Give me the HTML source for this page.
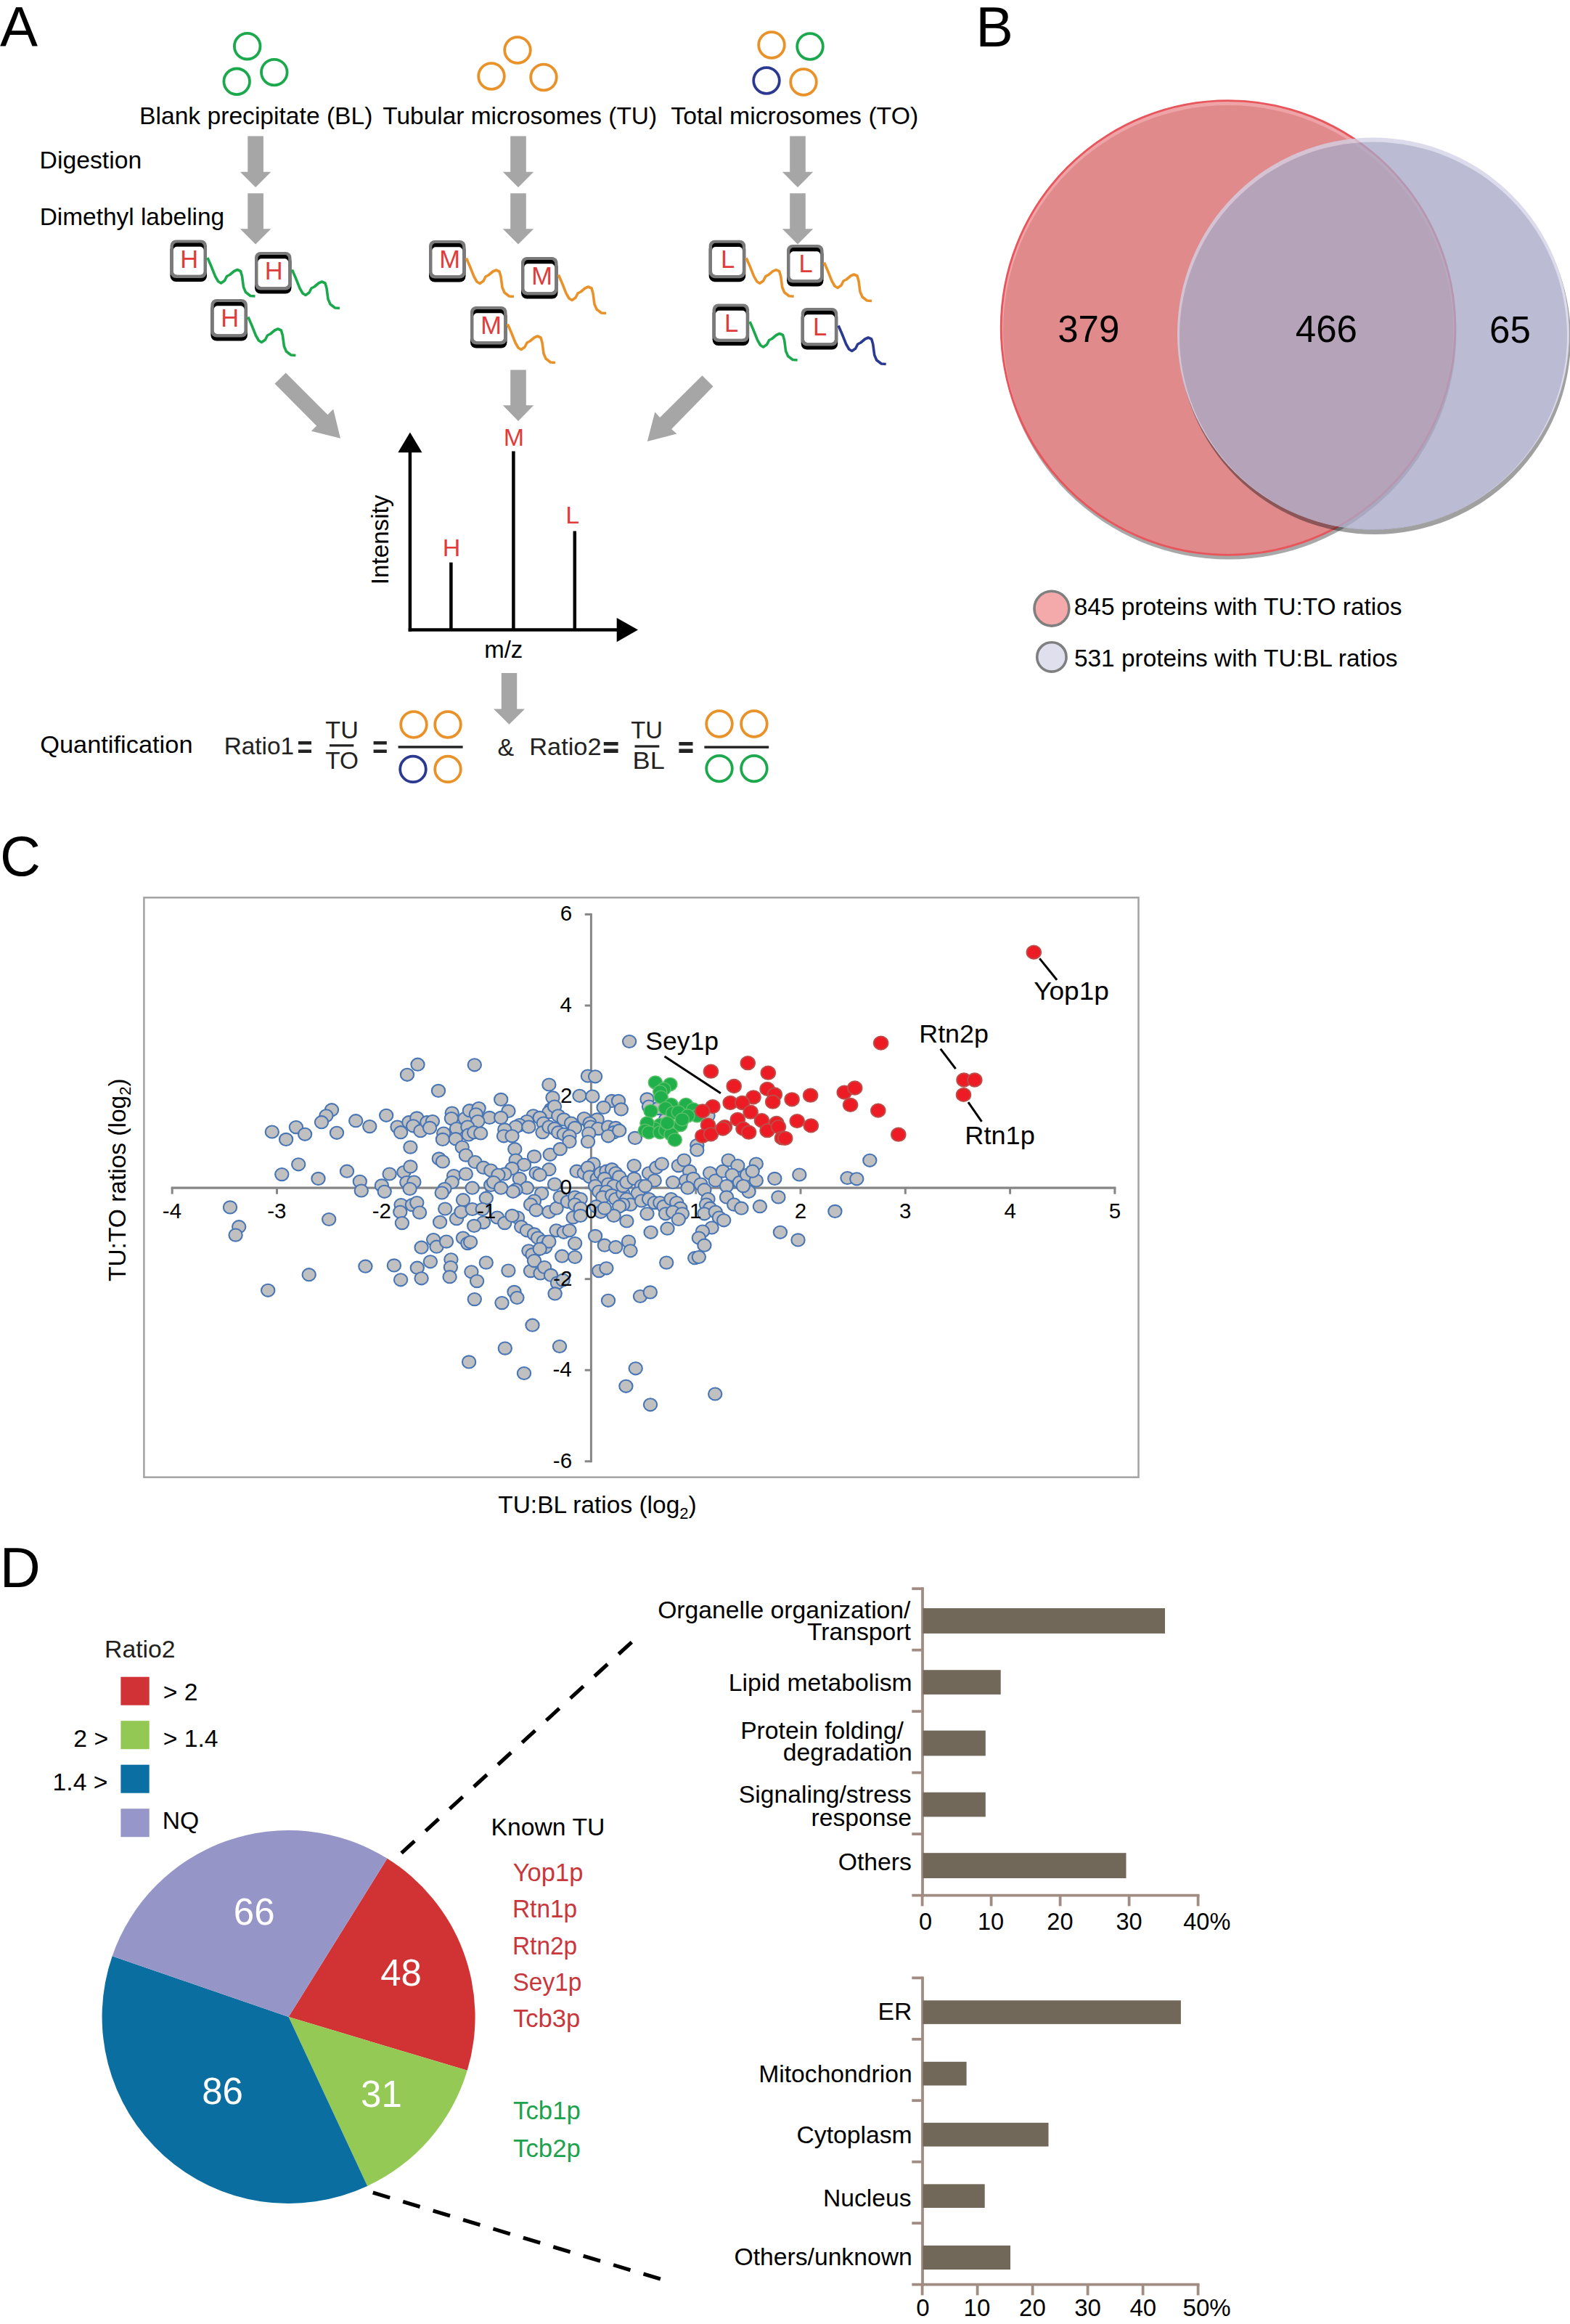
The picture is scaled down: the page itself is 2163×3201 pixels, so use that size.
<!DOCTYPE html>
<html><head><meta charset="utf-8"><style>
html,body{margin:0;padding:0;background:#fff;overflow:hidden;}
body{width:2163px;height:3201px;}
svg{display:block;font-family:"Liberation Sans",sans-serif;}
</style></head><body>
<svg width="2163" height="3201" viewBox="0 0 2163 3201">
<rect width="2163" height="3201" fill="#fff"/>
<text x="0.00" y="63.70" font-size="78" fill="#000">A</text>
<circle cx="340.7" cy="63.7" r="17.8" fill="none" stroke="#1ca84c" stroke-width="3.8"/>
<circle cx="377.8" cy="99.6" r="17.8" fill="none" stroke="#1ca84c" stroke-width="3.8"/>
<circle cx="326.2" cy="112.3" r="17.8" fill="none" stroke="#1ca84c" stroke-width="3.8"/>
<circle cx="713" cy="69" r="17.8" fill="none" stroke="#e9922a" stroke-width="3.8"/>
<circle cx="677" cy="105" r="17.8" fill="none" stroke="#e9922a" stroke-width="3.8"/>
<circle cx="749" cy="106.5" r="17.8" fill="none" stroke="#e9922a" stroke-width="3.8"/>
<circle cx="1063" cy="62" r="17.8" fill="none" stroke="#e9922a" stroke-width="3.8"/>
<circle cx="1116" cy="64" r="17.8" fill="none" stroke="#1ca84c" stroke-width="3.8"/>
<circle cx="1056" cy="111" r="17.8" fill="none" stroke="#2b3990" stroke-width="3.8"/>
<circle cx="1107" cy="113" r="17.8" fill="none" stroke="#e9922a" stroke-width="3.8"/>
<text x="192.11" y="171.10" font-size="34" fill="#000" textLength="321.29" lengthAdjust="spacingAndGlyphs">Blank precipitate (BL)</text>
<text x="527.33" y="171.10" font-size="34" fill="#000" textLength="377.78" lengthAdjust="spacingAndGlyphs">Tubular microsomes (TU)</text>
<text x="924.32" y="171.10" font-size="34" fill="#000" textLength="340.85" lengthAdjust="spacingAndGlyphs">Total microsomes (TO)</text>
<text x="54.60" y="232.10" font-size="34" fill="#000" textLength="140.56" lengthAdjust="spacingAndGlyphs">Digestion</text>
<text x="54.63" y="309.70" font-size="34" fill="#000" textLength="254.55" lengthAdjust="spacingAndGlyphs">Dimethyl labeling</text>
<polygon points="341.3,187.5 362.90000000000003,187.5 362.90000000000003,236.8 373.3,236.8 352.1,258.1 330.90000000000003,236.8 341.3,236.8" fill="#a6a6a6"/>
<polygon points="341.3,266.3 362.90000000000003,266.3 362.90000000000003,315.2 373.3,315.2 352.1,336.5 330.90000000000003,315.2 341.3,315.2" fill="#a6a6a6"/>
<polygon points="703.2,187.5 724.8,187.5 724.8,236.8 735.2,236.8 714,258.1 692.8,236.8 703.2,236.8" fill="#a6a6a6"/>
<polygon points="703.2,266.3 724.8,266.3 724.8,315.2 735.2,315.2 714,336.5 692.8,315.2 703.2,315.2" fill="#a6a6a6"/>
<polygon points="1088.2,187.5 1109.8,187.5 1109.8,236.8 1120.2,236.8 1099,258.1 1077.8,236.8 1088.2,236.8" fill="#a6a6a6"/>
<polygon points="1088.2,266.3 1109.8,266.3 1109.8,315.2 1120.2,315.2 1099,336.5 1077.8,315.2 1088.2,315.2" fill="#a6a6a6"/>
<rect x="234.5" y="335.5" width="50.5" height="52.5" rx="8" fill="#000"/>
<rect x="234.5" y="330.5" width="50.5" height="52.5" rx="8" fill="#7a7a7a"/>
<rect x="238.8" y="334.6" width="41.9" height="44.1" rx="5" fill="#000"/>
<rect x="238.8" y="339.7" width="41.9" height="39.0" rx="5" fill="#fff"/>
<text x="248.33" y="368.90" font-size="34.5" fill="#e03c3c">H</text>
<path d="M285.9,355.0 L290.5,365.5 L296.5,380.5 L300.5,387.5 L304.5,390.0 L309.5,386.5 L312.5,380.5 L316.5,378.5 L322.5,373.5 L327.0,371.5 L331.5,373.5 L333.5,380.5 L335.5,395.5 L338.5,402.5 L345.0,407.5 L351.5,408.0" fill="none" stroke="#1ca84c" stroke-width="3.6" stroke-linejoin="round" stroke-linecap="butt"/>
<rect x="351" y="352" width="50.5" height="52.5" rx="8" fill="#000"/>
<rect x="351" y="347" width="50.5" height="52.5" rx="8" fill="#7a7a7a"/>
<rect x="355.3" y="351.1" width="41.9" height="44.1" rx="5" fill="#000"/>
<rect x="355.3" y="356.2" width="41.9" height="39.0" rx="5" fill="#fff"/>
<text x="364.83" y="385.40" font-size="34.5" fill="#e03c3c">H</text>
<path d="M402.4,371.5 L407.0,382.0 L413.0,397.0 L417.0,404.0 L421.0,406.5 L426.0,403.0 L429.0,397.0 L433.0,395.0 L439.0,390.0 L443.5,388.0 L448.0,390.0 L450.0,397.0 L452.0,412.0 L455.0,419.0 L461.5,424.0 L468.0,424.5" fill="none" stroke="#1ca84c" stroke-width="3.6" stroke-linejoin="round" stroke-linecap="butt"/>
<rect x="290.4" y="417" width="50.5" height="52.5" rx="8" fill="#000"/>
<rect x="290.4" y="412" width="50.5" height="52.5" rx="8" fill="#7a7a7a"/>
<rect x="294.7" y="416.1" width="41.9" height="44.1" rx="5" fill="#000"/>
<rect x="294.7" y="421.2" width="41.9" height="39.0" rx="5" fill="#fff"/>
<text x="304.23" y="450.40" font-size="34.5" fill="#e03c3c">H</text>
<path d="M341.8,436.5 L346.4,447.0 L352.4,462.0 L356.4,469.0 L360.4,471.5 L365.4,468.0 L368.4,462.0 L372.4,460.0 L378.4,455.0 L382.9,453.0 L387.4,455.0 L389.4,462.0 L391.4,477.0 L394.4,484.0 L400.9,489.0 L407.4,489.5" fill="none" stroke="#1ca84c" stroke-width="3.6" stroke-linejoin="round" stroke-linecap="butt"/>
<rect x="591" y="336" width="50.5" height="52.5" rx="8" fill="#000"/>
<rect x="591" y="331" width="50.5" height="52.5" rx="8" fill="#7a7a7a"/>
<rect x="595.3" y="335.1" width="41.9" height="44.1" rx="5" fill="#000"/>
<rect x="595.3" y="340.2" width="41.9" height="39.0" rx="5" fill="#fff"/>
<text x="605.23" y="369.40" font-size="34.5" fill="#e03c3c">M</text>
<path d="M642.4,355.5 L647.0,366.0 L653.0,381.0 L657.0,388.0 L661.0,390.5 L666.0,387.0 L669.0,381.0 L673.0,379.0 L679.0,374.0 L683.5,372.0 L688.0,374.0 L690.0,381.0 L692.0,396.0 L695.0,403.0 L701.5,408.0 L708.0,408.5" fill="none" stroke="#e9922a" stroke-width="3.6" stroke-linejoin="round" stroke-linecap="butt"/>
<rect x="718" y="359" width="50.5" height="52.5" rx="8" fill="#000"/>
<rect x="718" y="354" width="50.5" height="52.5" rx="8" fill="#7a7a7a"/>
<rect x="722.3" y="358.1" width="41.9" height="44.1" rx="5" fill="#000"/>
<rect x="722.3" y="363.2" width="41.9" height="39.0" rx="5" fill="#fff"/>
<text x="732.23" y="392.40" font-size="34.5" fill="#e03c3c">M</text>
<path d="M769.4,378.5 L774.0,389.0 L780.0,404.0 L784.0,411.0 L788.0,413.5 L793.0,410.0 L796.0,404.0 L800.0,402.0 L806.0,397.0 L810.5,395.0 L815.0,397.0 L817.0,404.0 L819.0,419.0 L822.0,426.0 L828.5,431.0 L835.0,431.5" fill="none" stroke="#e9922a" stroke-width="3.6" stroke-linejoin="round" stroke-linecap="butt"/>
<rect x="648" y="427" width="50.5" height="52.5" rx="8" fill="#000"/>
<rect x="648" y="422" width="50.5" height="52.5" rx="8" fill="#7a7a7a"/>
<rect x="652.3" y="426.1" width="41.9" height="44.1" rx="5" fill="#000"/>
<rect x="652.3" y="431.2" width="41.9" height="39.0" rx="5" fill="#fff"/>
<text x="662.23" y="460.40" font-size="34.5" fill="#e03c3c">M</text>
<path d="M699.4,446.5 L704.0,457.0 L710.0,472.0 L714.0,479.0 L718.0,481.5 L723.0,478.0 L726.0,472.0 L730.0,470.0 L736.0,465.0 L740.5,463.0 L745.0,465.0 L747.0,472.0 L749.0,487.0 L752.0,494.0 L758.5,499.0 L765.0,499.5" fill="none" stroke="#e9922a" stroke-width="3.6" stroke-linejoin="round" stroke-linecap="butt"/>
<rect x="976.7" y="335.7" width="50.5" height="52.5" rx="8" fill="#000"/>
<rect x="976.7" y="330.7" width="50.5" height="52.5" rx="8" fill="#7a7a7a"/>
<rect x="981.0" y="334.8" width="41.9" height="44.1" rx="5" fill="#000"/>
<rect x="981.0" y="339.9" width="41.9" height="39.0" rx="5" fill="#fff"/>
<text x="993.11" y="369.10" font-size="34.5" fill="#e03c3c">L</text>
<path d="M1028.1,355.2 L1032.7,365.7 L1038.7,380.7 L1042.7,387.7 L1046.7,390.2 L1051.7,386.7 L1054.7,380.7 L1058.7,378.7 L1064.7,373.7 L1069.2,371.7 L1073.7,373.7 L1075.7,380.7 L1077.7,395.7 L1080.7,402.7 L1087.2,407.7 L1093.7,408.2" fill="none" stroke="#e9922a" stroke-width="3.6" stroke-linejoin="round" stroke-linecap="butt"/>
<rect x="1084" y="342" width="50.5" height="52.5" rx="8" fill="#000"/>
<rect x="1084" y="337" width="50.5" height="52.5" rx="8" fill="#7a7a7a"/>
<rect x="1088.3" y="341.1" width="41.9" height="44.1" rx="5" fill="#000"/>
<rect x="1088.3" y="346.2" width="41.9" height="39.0" rx="5" fill="#fff"/>
<text x="1100.41" y="375.40" font-size="34.5" fill="#e03c3c">L</text>
<path d="M1135.4,361.5 L1140.0,372.0 L1146.0,387.0 L1150.0,394.0 L1154.0,396.5 L1159.0,393.0 L1162.0,387.0 L1166.0,385.0 L1172.0,380.0 L1176.5,378.0 L1181.0,380.0 L1183.0,387.0 L1185.0,402.0 L1188.0,409.0 L1194.5,414.0 L1201.0,414.5" fill="none" stroke="#e9922a" stroke-width="3.6" stroke-linejoin="round" stroke-linecap="butt"/>
<rect x="981.6" y="423.5" width="50.5" height="52.5" rx="8" fill="#000"/>
<rect x="981.6" y="418.5" width="50.5" height="52.5" rx="8" fill="#7a7a7a"/>
<rect x="985.9" y="422.6" width="41.9" height="44.1" rx="5" fill="#000"/>
<rect x="985.9" y="427.7" width="41.9" height="39.0" rx="5" fill="#fff"/>
<text x="998.01" y="456.90" font-size="34.5" fill="#e03c3c">L</text>
<path d="M1033.0,443.0 L1037.6,453.5 L1043.6,468.5 L1047.6,475.5 L1051.6,478.0 L1056.6,474.5 L1059.6,468.5 L1063.6,466.5 L1069.6,461.5 L1074.1,459.5 L1078.6,461.5 L1080.6,468.5 L1082.6,483.5 L1085.6,490.5 L1092.1,495.5 L1098.6,496.0" fill="none" stroke="#1ca84c" stroke-width="3.6" stroke-linejoin="round" stroke-linecap="butt"/>
<rect x="1103.7" y="429" width="50.5" height="52.5" rx="8" fill="#000"/>
<rect x="1103.7" y="424" width="50.5" height="52.5" rx="8" fill="#7a7a7a"/>
<rect x="1108.0" y="428.1" width="41.9" height="44.1" rx="5" fill="#000"/>
<rect x="1108.0" y="433.2" width="41.9" height="39.0" rx="5" fill="#fff"/>
<text x="1120.11" y="462.40" font-size="34.5" fill="#e03c3c">L</text>
<path d="M1155.1,448.5 L1159.7,459.0 L1165.7,474.0 L1169.7,481.0 L1173.7,483.5 L1178.7,480.0 L1181.7,474.0 L1185.7,472.0 L1191.7,467.0 L1196.2,465.0 L1200.7,467.0 L1202.7,474.0 L1204.7,489.0 L1207.7,496.0 L1214.2,501.0 L1220.7,501.5" fill="none" stroke="#2b3990" stroke-width="3.6" stroke-linejoin="round" stroke-linecap="butt"/>
<polygon points="393.7,513.4 451.4,571.3 459.2,563.5 469,603.7 428.9,593.8 436.1,586.5 378.5,528.4" fill="#a6a6a6"/>
<polygon points="967.5,517.2 982.5,532.3 925.1,591 932.4,597.6 891.8,607.9 902.3,567.6 909.2,574.9" fill="#a6a6a6"/>
<polygon points="703.2,509.5 724.8,509.5 724.8,558.3 735.2,558.3 714,580 692.8,558.3 703.2,558.3" fill="#a6a6a6"/>
<line x1="564.9" y1="869.8" x2="564.9" y2="620" stroke="#000" stroke-width="4.5"/>
<polygon points="564.9,595.6 581.5,623.3 548.3,623.3" fill="#000"/>
<line x1="562.7" y1="867.6" x2="852" y2="867.6" stroke="#000" stroke-width="4.5"/>
<polygon points="879,867.6 849.7,851 849.7,884.3" fill="#000"/>
<line x1="621.4" y1="774.7" x2="621.4" y2="867" stroke="#000" stroke-width="4.5"/>
<line x1="707.4" y1="621.5" x2="707.4" y2="867" stroke="#000" stroke-width="4.5"/>
<line x1="791.8" y1="731.5" x2="791.8" y2="867" stroke="#000" stroke-width="4.5"/>
<text x="609.76" y="765.90" font-size="34" fill="#e03c3c">H</text>
<text x="693.79" y="614.10" font-size="34" fill="#e03c3c">M</text>
<text x="779.18" y="720.60" font-size="34" fill="#e03c3c">L</text>
<text transform="translate(535.2,741.9) rotate(-90)" x="-63.33" y="0" font-size="33.2">Intensity</text>
<text x="667.19" y="905.70" font-size="33" fill="#000">m/z</text>
<polygon points="690.8,927 712.2,927 712.2,976.4 723.0,976.4 701.5,997.8 680.0,976.4 690.8,976.4" fill="#a6a6a6"/>
<text x="55.15" y="1036.60" font-size="34" fill="#000" textLength="210.38" lengthAdjust="spacingAndGlyphs">Quantification</text>
<text x="308.63" y="1038.70" font-size="34" fill="#222" textLength="96.50" lengthAdjust="spacingAndGlyphs">Ratio1</text>
<rect x="411" y="1021" width="18" height="4.5" fill="#222"/>
<rect x="411" y="1032.5" width="18" height="4.5" fill="#222"/>
<text x="448.32" y="1017.00" font-size="33" fill="#222" textLength="45.55" lengthAdjust="spacingAndGlyphs">TU</text>
<rect x="454" y="1025.2" width="33.3" height="3.2" fill="#222"/>
<text x="448.33" y="1058.60" font-size="33" fill="#222" textLength="45.69" lengthAdjust="spacingAndGlyphs">TO</text>
<rect x="514.6" y="1021" width="18.199999999999932" height="4.5" fill="#222"/>
<rect x="514.6" y="1032.5" width="18.199999999999932" height="4.5" fill="#222"/>
<rect x="548.6" y="1027.2" width="89" height="3.4" fill="#222"/>
<circle cx="570" cy="998" r="17.8" fill="none" stroke="#e9922a" stroke-width="3.8"/>
<circle cx="617" cy="998" r="17.8" fill="none" stroke="#e9922a" stroke-width="3.8"/>
<circle cx="569" cy="1059.4" r="17.8" fill="none" stroke="#2b3990" stroke-width="3.8"/>
<circle cx="617" cy="1059.4" r="17.8" fill="none" stroke="#e9922a" stroke-width="3.8"/>
<text x="685.41" y="1040.80" font-size="34" fill="#222">&amp;</text>
<text x="729.25" y="1039.50" font-size="34" fill="#222" textLength="99.29" lengthAdjust="spacingAndGlyphs">Ratio2</text>
<rect x="831.8" y="1022" width="19.800000000000068" height="4.7999999999999545" fill="#222"/>
<rect x="831.8" y="1031.5" width="19.800000000000068" height="5.5" fill="#222"/>
<text x="869.34" y="1017.20" font-size="33" fill="#222" textLength="43.72" lengthAdjust="spacingAndGlyphs">TU</text>
<rect x="874.5" y="1026.4" width="33.8" height="3.2" fill="#222"/>
<text x="871.61" y="1059.20" font-size="33" fill="#222" textLength="44.19" lengthAdjust="spacingAndGlyphs">BL</text>
<rect x="935.4" y="1022" width="19.100000000000023" height="4.7999999999999545" fill="#222"/>
<rect x="935.4" y="1031.5" width="19.100000000000023" height="5.5" fill="#222"/>
<rect x="970.4" y="1027.4" width="88.8" height="3.4" fill="#222"/>
<circle cx="991" cy="997" r="17.8" fill="none" stroke="#e9922a" stroke-width="3.8"/>
<circle cx="1038.9" cy="997" r="17.8" fill="none" stroke="#e9922a" stroke-width="3.8"/>
<circle cx="991" cy="1058.6" r="17.8" fill="none" stroke="#1ca84c" stroke-width="3.8"/>
<circle cx="1038.9" cy="1058.6" r="17.8" fill="none" stroke="#1ca84c" stroke-width="3.8"/>
<text x="1344.20" y="63.70" font-size="77.5" fill="#000">B</text>
<defs><mask id="lm"><rect x="1300" y="100" width="863" height="700" fill="#fff"/><circle cx="1892" cy="459.6" r="269.5" fill="#000"/></mask></defs>
<circle cx="1693" cy="457" r="313.5" fill="#a8a8a8"/>
<circle cx="1692" cy="451.5" r="313.5" fill="#eea3a7"/>
<circle cx="1692" cy="455" r="310" fill="#e08a8c"/>
<circle cx="1692" cy="451.5" r="312.8" fill="none" stroke="#e8565c" stroke-width="2.8"/>
<circle cx="1894" cy="466" r="270" fill="#000" opacity="0.37" mask="url(#lm)"/>
<g opacity="0.78"><circle cx="1892" cy="459.6" r="270" fill="#d2d2e7"/><circle cx="1892" cy="462.6" r="267" fill="#a9aac7"/></g>
<text x="1457.17" y="470.60" font-size="51" fill="#000">379</text>
<text x="1784.85" y="470.60" font-size="51" fill="#000">466</text>
<text x="2052.04" y="471.60" font-size="51" fill="#000">65</text>
<circle cx="1448.9" cy="838.2" r="23.9" fill="#f4a9ab" stroke="#7f7f7f" stroke-width="3.6"/>
<circle cx="1448.9" cy="904.9" r="20.2" fill="#dfdfee" stroke="#7f7f7f" stroke-width="3.6"/>
<text x="1479.80" y="847.00" font-size="34" fill="#000" textLength="451.66" lengthAdjust="spacingAndGlyphs">845 proteins with TU:TO ratios</text>
<text x="1479.96" y="918.40" font-size="34" fill="#000" textLength="445.51" lengthAdjust="spacingAndGlyphs">531 proteins with TU:BL ratios</text>
<text x="-0.08" y="1205.70" font-size="77.5" fill="#000">C</text>
<rect x="198.4" y="1236.3" width="1370.1" height="798.4" fill="none" stroke="#a3a3a3" stroke-width="2.5"/>
<line x1="235.7" y1="1636.1" x2="1537.4" y2="1636.1" stroke="#868686" stroke-width="3.2"/>
<line x1="814.4" y1="1257.9" x2="814.4" y2="2014.3" stroke="#868686" stroke-width="3"/>
<line x1="237.2" y1="1636.1" x2="237.2" y2="1644.6999999999998" stroke="#868686" stroke-width="3"/>
<line x1="381.5" y1="1636.1" x2="381.5" y2="1644.6999999999998" stroke="#868686" stroke-width="3"/>
<line x1="525.8" y1="1636.1" x2="525.8" y2="1644.6999999999998" stroke="#868686" stroke-width="3"/>
<line x1="670.1" y1="1636.1" x2="670.1" y2="1644.6999999999998" stroke="#868686" stroke-width="3"/>
<line x1="814.4" y1="1636.1" x2="814.4" y2="1644.6999999999998" stroke="#868686" stroke-width="3"/>
<line x1="958.7" y1="1636.1" x2="958.7" y2="1644.6999999999998" stroke="#868686" stroke-width="3"/>
<line x1="1103.0" y1="1636.1" x2="1103.0" y2="1644.6999999999998" stroke="#868686" stroke-width="3"/>
<line x1="1247.3" y1="1636.1" x2="1247.3" y2="1644.6999999999998" stroke="#868686" stroke-width="3"/>
<line x1="1391.6" y1="1636.1" x2="1391.6" y2="1644.6999999999998" stroke="#868686" stroke-width="3"/>
<line x1="1535.9" y1="1636.1" x2="1535.9" y2="1644.6999999999998" stroke="#868686" stroke-width="3"/>
<line x1="805.7" y1="2012.8" x2="814.4" y2="2012.8" stroke="#868686" stroke-width="3"/>
<line x1="805.7" y1="1887.2" x2="814.4" y2="1887.2" stroke="#868686" stroke-width="3"/>
<line x1="805.7" y1="1761.7" x2="814.4" y2="1761.7" stroke="#868686" stroke-width="3"/>
<line x1="805.7" y1="1636.1" x2="814.4" y2="1636.1" stroke="#868686" stroke-width="3"/>
<line x1="805.7" y1="1510.5" x2="814.4" y2="1510.5" stroke="#868686" stroke-width="3"/>
<line x1="805.7" y1="1385.0" x2="814.4" y2="1385.0" stroke="#868686" stroke-width="3"/>
<line x1="805.7" y1="1259.4" x2="814.4" y2="1259.4" stroke="#868686" stroke-width="3"/>
<ellipse cx="575.5" cy="1466.2" rx="9.15" ry="8.55" fill="#c0c0c0" stroke="#4775b5" stroke-width="2.1"/>
<ellipse cx="561" cy="1480.3" rx="9.15" ry="8.55" fill="#c0c0c0" stroke="#4775b5" stroke-width="2.1"/>
<ellipse cx="653.8" cy="1466.8" rx="9.15" ry="8.55" fill="#c0c0c0" stroke="#4775b5" stroke-width="2.1"/>
<ellipse cx="604" cy="1502.4" rx="9.15" ry="8.55" fill="#c0c0c0" stroke="#4775b5" stroke-width="2.1"/>
<ellipse cx="457" cy="1528.7" rx="9.15" ry="8.55" fill="#c0c0c0" stroke="#4775b5" stroke-width="2.1"/>
<ellipse cx="449.4" cy="1536.8" rx="9.15" ry="8.55" fill="#c0c0c0" stroke="#4775b5" stroke-width="2.1"/>
<ellipse cx="443" cy="1545.7" rx="9.15" ry="8.55" fill="#c0c0c0" stroke="#4775b5" stroke-width="2.1"/>
<ellipse cx="532.2" cy="1536.3" rx="9.15" ry="8.55" fill="#c0c0c0" stroke="#4775b5" stroke-width="2.1"/>
<ellipse cx="490.2" cy="1543.7" rx="9.15" ry="8.55" fill="#c0c0c0" stroke="#4775b5" stroke-width="2.1"/>
<ellipse cx="509.3" cy="1551.6" rx="9.15" ry="8.55" fill="#c0c0c0" stroke="#4775b5" stroke-width="2.1"/>
<ellipse cx="374.8" cy="1559" rx="9.15" ry="8.55" fill="#c0c0c0" stroke="#4775b5" stroke-width="2.1"/>
<ellipse cx="407.9" cy="1552.6" rx="9.15" ry="8.55" fill="#c0c0c0" stroke="#4775b5" stroke-width="2.1"/>
<ellipse cx="394.1" cy="1569.4" rx="9.15" ry="8.55" fill="#c0c0c0" stroke="#4775b5" stroke-width="2.1"/>
<ellipse cx="420.1" cy="1562.3" rx="9.15" ry="8.55" fill="#c0c0c0" stroke="#4775b5" stroke-width="2.1"/>
<ellipse cx="464" cy="1560.3" rx="9.15" ry="8.55" fill="#c0c0c0" stroke="#4775b5" stroke-width="2.1"/>
<ellipse cx="547.5" cy="1552.1" rx="9.15" ry="8.55" fill="#c0c0c0" stroke="#4775b5" stroke-width="2.1"/>
<ellipse cx="552.1" cy="1559.7" rx="9.15" ry="8.55" fill="#c0c0c0" stroke="#4775b5" stroke-width="2.1"/>
<ellipse cx="563.3" cy="1545.7" rx="9.15" ry="8.55" fill="#c0c0c0" stroke="#4775b5" stroke-width="2.1"/>
<ellipse cx="574.3" cy="1539.9" rx="9.15" ry="8.55" fill="#c0c0c0" stroke="#4775b5" stroke-width="2.1"/>
<ellipse cx="569.2" cy="1550.8" rx="9.15" ry="8.55" fill="#c0c0c0" stroke="#4775b5" stroke-width="2.1"/>
<ellipse cx="579.4" cy="1557.7" rx="9.15" ry="8.55" fill="#c0c0c0" stroke="#4775b5" stroke-width="2.1"/>
<ellipse cx="588.3" cy="1545.7" rx="9.15" ry="8.55" fill="#c0c0c0" stroke="#4775b5" stroke-width="2.1"/>
<ellipse cx="595.9" cy="1544.5" rx="9.15" ry="8.55" fill="#c0c0c0" stroke="#4775b5" stroke-width="2.1"/>
<ellipse cx="592.1" cy="1553.4" rx="9.15" ry="8.55" fill="#c0c0c0" stroke="#4775b5" stroke-width="2.1"/>
<ellipse cx="622.7" cy="1533" rx="9.15" ry="8.55" fill="#c0c0c0" stroke="#4775b5" stroke-width="2.1"/>
<ellipse cx="621.9" cy="1540.6" rx="9.15" ry="8.55" fill="#c0c0c0" stroke="#4775b5" stroke-width="2.1"/>
<ellipse cx="640.5" cy="1540.6" rx="9.15" ry="8.55" fill="#c0c0c0" stroke="#4775b5" stroke-width="2.1"/>
<ellipse cx="646.9" cy="1529.7" rx="9.15" ry="8.55" fill="#c0c0c0" stroke="#4775b5" stroke-width="2.1"/>
<ellipse cx="659.6" cy="1526.6" rx="9.15" ry="8.55" fill="#c0c0c0" stroke="#4775b5" stroke-width="2.1"/>
<ellipse cx="655.8" cy="1534.8" rx="9.15" ry="8.55" fill="#c0c0c0" stroke="#4775b5" stroke-width="2.1"/>
<ellipse cx="674.4" cy="1539.4" rx="9.15" ry="8.55" fill="#c0c0c0" stroke="#4775b5" stroke-width="2.1"/>
<ellipse cx="658.3" cy="1544.5" rx="9.15" ry="8.55" fill="#c0c0c0" stroke="#4775b5" stroke-width="2.1"/>
<ellipse cx="629" cy="1554.6" rx="9.15" ry="8.55" fill="#c0c0c0" stroke="#4775b5" stroke-width="2.1"/>
<ellipse cx="644.3" cy="1552.1" rx="9.15" ry="8.55" fill="#c0c0c0" stroke="#4775b5" stroke-width="2.1"/>
<ellipse cx="611.2" cy="1561" rx="9.15" ry="8.55" fill="#c0c0c0" stroke="#4775b5" stroke-width="2.1"/>
<ellipse cx="609.9" cy="1569.4" rx="9.15" ry="8.55" fill="#c0c0c0" stroke="#4775b5" stroke-width="2.1"/>
<ellipse cx="627.8" cy="1568.7" rx="9.15" ry="8.55" fill="#c0c0c0" stroke="#4775b5" stroke-width="2.1"/>
<ellipse cx="645.6" cy="1563" rx="9.15" ry="8.55" fill="#c0c0c0" stroke="#4775b5" stroke-width="2.1"/>
<ellipse cx="653.2" cy="1559.7" rx="9.15" ry="8.55" fill="#c0c0c0" stroke="#4775b5" stroke-width="2.1"/>
<ellipse cx="662.2" cy="1561" rx="9.15" ry="8.55" fill="#c0c0c0" stroke="#4775b5" stroke-width="2.1"/>
<ellipse cx="565.4" cy="1580.1" rx="9.15" ry="8.55" fill="#c0c0c0" stroke="#4775b5" stroke-width="2.1"/>
<ellipse cx="636.7" cy="1580.1" rx="9.15" ry="8.55" fill="#c0c0c0" stroke="#4775b5" stroke-width="2.1"/>
<ellipse cx="641.8" cy="1591.1" rx="9.15" ry="8.55" fill="#c0c0c0" stroke="#4775b5" stroke-width="2.1"/>
<ellipse cx="604.8" cy="1595.9" rx="9.15" ry="8.55" fill="#c0c0c0" stroke="#4775b5" stroke-width="2.1"/>
<ellipse cx="609.9" cy="1600" rx="9.15" ry="8.55" fill="#c0c0c0" stroke="#4775b5" stroke-width="2.1"/>
<ellipse cx="654.5" cy="1600.5" rx="9.15" ry="8.55" fill="#c0c0c0" stroke="#4775b5" stroke-width="2.1"/>
<ellipse cx="666" cy="1608.2" rx="9.15" ry="8.55" fill="#c0c0c0" stroke="#4775b5" stroke-width="2.1"/>
<ellipse cx="676.2" cy="1612" rx="9.15" ry="8.55" fill="#c0c0c0" stroke="#4775b5" stroke-width="2.1"/>
<ellipse cx="411.2" cy="1603.8" rx="9.15" ry="8.55" fill="#c0c0c0" stroke="#4775b5" stroke-width="2.1"/>
<ellipse cx="388.3" cy="1617.6" rx="9.15" ry="8.55" fill="#c0c0c0" stroke="#4775b5" stroke-width="2.1"/>
<ellipse cx="438.5" cy="1623.4" rx="9.15" ry="8.55" fill="#c0c0c0" stroke="#4775b5" stroke-width="2.1"/>
<ellipse cx="478" cy="1613.2" rx="9.15" ry="8.55" fill="#c0c0c0" stroke="#4775b5" stroke-width="2.1"/>
<ellipse cx="495.8" cy="1627.3" rx="9.15" ry="8.55" fill="#c0c0c0" stroke="#4775b5" stroke-width="2.1"/>
<ellipse cx="497.8" cy="1640" rx="9.15" ry="8.55" fill="#c0c0c0" stroke="#4775b5" stroke-width="2.1"/>
<ellipse cx="525.9" cy="1632.9" rx="9.15" ry="8.55" fill="#c0c0c0" stroke="#4775b5" stroke-width="2.1"/>
<ellipse cx="529.7" cy="1641.3" rx="9.15" ry="8.55" fill="#c0c0c0" stroke="#4775b5" stroke-width="2.1"/>
<ellipse cx="536.6" cy="1617" rx="9.15" ry="8.55" fill="#c0c0c0" stroke="#4775b5" stroke-width="2.1"/>
<ellipse cx="556.4" cy="1614.5" rx="9.15" ry="8.55" fill="#c0c0c0" stroke="#4775b5" stroke-width="2.1"/>
<ellipse cx="565.4" cy="1606.9" rx="9.15" ry="8.55" fill="#c0c0c0" stroke="#4775b5" stroke-width="2.1"/>
<ellipse cx="560.3" cy="1628.5" rx="9.15" ry="8.55" fill="#c0c0c0" stroke="#4775b5" stroke-width="2.1"/>
<ellipse cx="570.4" cy="1628" rx="9.15" ry="8.55" fill="#c0c0c0" stroke="#4775b5" stroke-width="2.1"/>
<ellipse cx="564.6" cy="1637.5" rx="9.15" ry="8.55" fill="#c0c0c0" stroke="#4775b5" stroke-width="2.1"/>
<ellipse cx="625.2" cy="1619.6" rx="9.15" ry="8.55" fill="#c0c0c0" stroke="#4775b5" stroke-width="2.1"/>
<ellipse cx="622.7" cy="1628.5" rx="9.15" ry="8.55" fill="#c0c0c0" stroke="#4775b5" stroke-width="2.1"/>
<ellipse cx="641.8" cy="1617" rx="9.15" ry="8.55" fill="#c0c0c0" stroke="#4775b5" stroke-width="2.1"/>
<ellipse cx="612.5" cy="1637.5" rx="9.15" ry="8.55" fill="#c0c0c0" stroke="#4775b5" stroke-width="2.1"/>
<ellipse cx="608.7" cy="1643" rx="9.15" ry="8.55" fill="#c0c0c0" stroke="#4775b5" stroke-width="2.1"/>
<ellipse cx="650.7" cy="1636.2" rx="9.15" ry="8.55" fill="#c0c0c0" stroke="#4775b5" stroke-width="2.1"/>
<ellipse cx="676.2" cy="1632.4" rx="9.15" ry="8.55" fill="#c0c0c0" stroke="#4775b5" stroke-width="2.1"/>
<ellipse cx="669.8" cy="1650.2" rx="9.15" ry="8.55" fill="#c0c0c0" stroke="#4775b5" stroke-width="2.1"/>
<ellipse cx="638" cy="1652.7" rx="9.15" ry="8.55" fill="#c0c0c0" stroke="#4775b5" stroke-width="2.1"/>
<ellipse cx="317" cy="1662.9" rx="9.15" ry="8.55" fill="#c0c0c0" stroke="#4775b5" stroke-width="2.1"/>
<ellipse cx="329.2" cy="1689.7" rx="9.15" ry="8.55" fill="#c0c0c0" stroke="#4775b5" stroke-width="2.1"/>
<ellipse cx="324.6" cy="1701.1" rx="9.15" ry="8.55" fill="#c0c0c0" stroke="#4775b5" stroke-width="2.1"/>
<ellipse cx="453.2" cy="1679.5" rx="9.15" ry="8.55" fill="#c0c0c0" stroke="#4775b5" stroke-width="2.1"/>
<ellipse cx="552.6" cy="1659.6" rx="9.15" ry="8.55" fill="#c0c0c0" stroke="#4775b5" stroke-width="2.1"/>
<ellipse cx="551.3" cy="1669.3" rx="9.15" ry="8.55" fill="#c0c0c0" stroke="#4775b5" stroke-width="2.1"/>
<ellipse cx="567.9" cy="1659.6" rx="9.15" ry="8.55" fill="#c0c0c0" stroke="#4775b5" stroke-width="2.1"/>
<ellipse cx="574.3" cy="1656.6" rx="9.15" ry="8.55" fill="#c0c0c0" stroke="#4775b5" stroke-width="2.1"/>
<ellipse cx="578.1" cy="1670.1" rx="9.15" ry="8.55" fill="#c0c0c0" stroke="#4775b5" stroke-width="2.1"/>
<ellipse cx="553.9" cy="1684.6" rx="9.15" ry="8.55" fill="#c0c0c0" stroke="#4775b5" stroke-width="2.1"/>
<ellipse cx="613.2" cy="1665" rx="9.15" ry="8.55" fill="#c0c0c0" stroke="#4775b5" stroke-width="2.1"/>
<ellipse cx="606.1" cy="1683.3" rx="9.15" ry="8.55" fill="#c0c0c0" stroke="#4775b5" stroke-width="2.1"/>
<ellipse cx="629" cy="1678.7" rx="9.15" ry="8.55" fill="#c0c0c0" stroke="#4775b5" stroke-width="2.1"/>
<ellipse cx="635.4" cy="1669.3" rx="9.15" ry="8.55" fill="#c0c0c0" stroke="#4775b5" stroke-width="2.1"/>
<ellipse cx="650.7" cy="1665.5" rx="9.15" ry="8.55" fill="#c0c0c0" stroke="#4775b5" stroke-width="2.1"/>
<ellipse cx="664.7" cy="1665.5" rx="9.15" ry="8.55" fill="#c0c0c0" stroke="#4775b5" stroke-width="2.1"/>
<ellipse cx="666" cy="1683.8" rx="9.15" ry="8.55" fill="#c0c0c0" stroke="#4775b5" stroke-width="2.1"/>
<ellipse cx="653.2" cy="1688.4" rx="9.15" ry="8.55" fill="#c0c0c0" stroke="#4775b5" stroke-width="2.1"/>
<ellipse cx="597.2" cy="1707.5" rx="9.15" ry="8.55" fill="#c0c0c0" stroke="#4775b5" stroke-width="2.1"/>
<ellipse cx="580.6" cy="1718.2" rx="9.15" ry="8.55" fill="#c0c0c0" stroke="#4775b5" stroke-width="2.1"/>
<ellipse cx="601.5" cy="1717.2" rx="9.15" ry="8.55" fill="#c0c0c0" stroke="#4775b5" stroke-width="2.1"/>
<ellipse cx="615" cy="1710.1" rx="9.15" ry="8.55" fill="#c0c0c0" stroke="#4775b5" stroke-width="2.1"/>
<ellipse cx="637.9" cy="1705" rx="9.15" ry="8.55" fill="#c0c0c0" stroke="#4775b5" stroke-width="2.1"/>
<ellipse cx="644.3" cy="1712.6" rx="9.15" ry="8.55" fill="#c0c0c0" stroke="#4775b5" stroke-width="2.1"/>
<ellipse cx="648.1" cy="1710.8" rx="9.15" ry="8.55" fill="#c0c0c0" stroke="#4775b5" stroke-width="2.1"/>
<ellipse cx="809.9" cy="1482" rx="9.15" ry="8.55" fill="#c0c0c0" stroke="#4775b5" stroke-width="2.1"/>
<ellipse cx="820.1" cy="1482.8" rx="9.15" ry="8.55" fill="#c0c0c0" stroke="#4775b5" stroke-width="2.1"/>
<ellipse cx="756.4" cy="1494" rx="9.15" ry="8.55" fill="#c0c0c0" stroke="#4775b5" stroke-width="2.1"/>
<ellipse cx="690.2" cy="1514.4" rx="9.15" ry="8.55" fill="#c0c0c0" stroke="#4775b5" stroke-width="2.1"/>
<ellipse cx="761.5" cy="1511.8" rx="9.15" ry="8.55" fill="#c0c0c0" stroke="#4775b5" stroke-width="2.1"/>
<ellipse cx="798.5" cy="1509.3" rx="9.15" ry="8.55" fill="#c0c0c0" stroke="#4775b5" stroke-width="2.1"/>
<ellipse cx="816.3" cy="1510" rx="9.15" ry="8.55" fill="#c0c0c0" stroke="#4775b5" stroke-width="2.1"/>
<ellipse cx="843" cy="1516.4" rx="9.15" ry="8.55" fill="#c0c0c0" stroke="#4775b5" stroke-width="2.1"/>
<ellipse cx="852" cy="1516.4" rx="9.15" ry="8.55" fill="#c0c0c0" stroke="#4775b5" stroke-width="2.1"/>
<ellipse cx="831.6" cy="1525.4" rx="9.15" ry="8.55" fill="#c0c0c0" stroke="#4775b5" stroke-width="2.1"/>
<ellipse cx="855.8" cy="1527.9" rx="9.15" ry="8.55" fill="#c0c0c0" stroke="#4775b5" stroke-width="2.1"/>
<ellipse cx="891.5" cy="1513.9" rx="9.15" ry="8.55" fill="#c0c0c0" stroke="#4775b5" stroke-width="2.1"/>
<ellipse cx="894" cy="1524.1" rx="9.15" ry="8.55" fill="#c0c0c0" stroke="#4775b5" stroke-width="2.1"/>
<ellipse cx="906.7" cy="1526.6" rx="9.15" ry="8.55" fill="#c0c0c0" stroke="#4775b5" stroke-width="2.1"/>
<ellipse cx="700.4" cy="1530.4" rx="9.15" ry="8.55" fill="#c0c0c0" stroke="#4775b5" stroke-width="2.1"/>
<ellipse cx="690.2" cy="1539.4" rx="9.15" ry="8.55" fill="#c0c0c0" stroke="#4775b5" stroke-width="2.1"/>
<ellipse cx="759" cy="1527.9" rx="9.15" ry="8.55" fill="#c0c0c0" stroke="#4775b5" stroke-width="2.1"/>
<ellipse cx="756.4" cy="1531.7" rx="9.15" ry="8.55" fill="#c0c0c0" stroke="#4775b5" stroke-width="2.1"/>
<ellipse cx="764" cy="1524" rx="9.15" ry="8.55" fill="#c0c0c0" stroke="#4775b5" stroke-width="2.1"/>
<ellipse cx="734.8" cy="1536.8" rx="9.15" ry="8.55" fill="#c0c0c0" stroke="#4775b5" stroke-width="2.1"/>
<ellipse cx="743.7" cy="1539.4" rx="9.15" ry="8.55" fill="#c0c0c0" stroke="#4775b5" stroke-width="2.1"/>
<ellipse cx="725.9" cy="1544.5" rx="9.15" ry="8.55" fill="#c0c0c0" stroke="#4775b5" stroke-width="2.1"/>
<ellipse cx="715.7" cy="1549.6" rx="9.15" ry="8.55" fill="#c0c0c0" stroke="#4775b5" stroke-width="2.1"/>
<ellipse cx="710.6" cy="1552.1" rx="9.15" ry="8.55" fill="#c0c0c0" stroke="#4775b5" stroke-width="2.1"/>
<ellipse cx="728.4" cy="1552.1" rx="9.15" ry="8.55" fill="#c0c0c0" stroke="#4775b5" stroke-width="2.1"/>
<ellipse cx="769.2" cy="1536.8" rx="9.15" ry="8.55" fill="#c0c0c0" stroke="#4775b5" stroke-width="2.1"/>
<ellipse cx="776.8" cy="1541.9" rx="9.15" ry="8.55" fill="#c0c0c0" stroke="#4775b5" stroke-width="2.1"/>
<ellipse cx="787" cy="1547" rx="9.15" ry="8.55" fill="#c0c0c0" stroke="#4775b5" stroke-width="2.1"/>
<ellipse cx="792.1" cy="1553.4" rx="9.15" ry="8.55" fill="#c0c0c0" stroke="#4775b5" stroke-width="2.1"/>
<ellipse cx="804.8" cy="1540.6" rx="9.15" ry="8.55" fill="#c0c0c0" stroke="#4775b5" stroke-width="2.1"/>
<ellipse cx="822.7" cy="1541.9" rx="9.15" ry="8.55" fill="#c0c0c0" stroke="#4775b5" stroke-width="2.1"/>
<ellipse cx="812.5" cy="1547" rx="9.15" ry="8.55" fill="#c0c0c0" stroke="#4775b5" stroke-width="2.1"/>
<ellipse cx="813.8" cy="1552.1" rx="9.15" ry="8.55" fill="#c0c0c0" stroke="#4775b5" stroke-width="2.1"/>
<ellipse cx="824" cy="1554.6" rx="9.15" ry="8.55" fill="#c0c0c0" stroke="#4775b5" stroke-width="2.1"/>
<ellipse cx="811.2" cy="1561" rx="9.15" ry="8.55" fill="#c0c0c0" stroke="#4775b5" stroke-width="2.1"/>
<ellipse cx="810" cy="1572.5" rx="9.15" ry="8.55" fill="#c0c0c0" stroke="#4775b5" stroke-width="2.1"/>
<ellipse cx="748.8" cy="1547" rx="9.15" ry="8.55" fill="#c0c0c0" stroke="#4775b5" stroke-width="2.1"/>
<ellipse cx="747.5" cy="1559.7" rx="9.15" ry="8.55" fill="#c0c0c0" stroke="#4775b5" stroke-width="2.1"/>
<ellipse cx="756.4" cy="1552.1" rx="9.15" ry="8.55" fill="#c0c0c0" stroke="#4775b5" stroke-width="2.1"/>
<ellipse cx="764.1" cy="1554.6" rx="9.15" ry="8.55" fill="#c0c0c0" stroke="#4775b5" stroke-width="2.1"/>
<ellipse cx="769.2" cy="1559.7" rx="9.15" ry="8.55" fill="#c0c0c0" stroke="#4775b5" stroke-width="2.1"/>
<ellipse cx="776.8" cy="1562.3" rx="9.15" ry="8.55" fill="#c0c0c0" stroke="#4775b5" stroke-width="2.1"/>
<ellipse cx="784.5" cy="1564.8" rx="9.15" ry="8.55" fill="#c0c0c0" stroke="#4775b5" stroke-width="2.1"/>
<ellipse cx="784.5" cy="1572.5" rx="9.15" ry="8.55" fill="#c0c0c0" stroke="#4775b5" stroke-width="2.1"/>
<ellipse cx="695.3" cy="1555.9" rx="9.15" ry="8.55" fill="#c0c0c0" stroke="#4775b5" stroke-width="2.1"/>
<ellipse cx="694" cy="1564.8" rx="9.15" ry="8.55" fill="#c0c0c0" stroke="#4775b5" stroke-width="2.1"/>
<ellipse cx="705.5" cy="1564.8" rx="9.15" ry="8.55" fill="#c0c0c0" stroke="#4775b5" stroke-width="2.1"/>
<ellipse cx="838" cy="1552.1" rx="9.15" ry="8.55" fill="#c0c0c0" stroke="#4775b5" stroke-width="2.1"/>
<ellipse cx="848.2" cy="1553.4" rx="9.15" ry="8.55" fill="#c0c0c0" stroke="#4775b5" stroke-width="2.1"/>
<ellipse cx="845.6" cy="1559.7" rx="9.15" ry="8.55" fill="#c0c0c0" stroke="#4775b5" stroke-width="2.1"/>
<ellipse cx="838" cy="1564.8" rx="9.15" ry="8.55" fill="#c0c0c0" stroke="#4775b5" stroke-width="2.1"/>
<ellipse cx="853.2" cy="1557.2" rx="9.15" ry="8.55" fill="#c0c0c0" stroke="#4775b5" stroke-width="2.1"/>
<ellipse cx="874.9" cy="1567.4" rx="9.15" ry="8.55" fill="#c0c0c0" stroke="#4775b5" stroke-width="2.1"/>
<ellipse cx="709.3" cy="1582.7" rx="9.15" ry="8.55" fill="#c0c0c0" stroke="#4775b5" stroke-width="2.1"/>
<ellipse cx="736" cy="1592.9" rx="9.15" ry="8.55" fill="#c0c0c0" stroke="#4775b5" stroke-width="2.1"/>
<ellipse cx="757.7" cy="1590.3" rx="9.15" ry="8.55" fill="#c0c0c0" stroke="#4775b5" stroke-width="2.1"/>
<ellipse cx="771.7" cy="1582.7" rx="9.15" ry="8.55" fill="#c0c0c0" stroke="#4775b5" stroke-width="2.1"/>
<ellipse cx="960.3" cy="1577.6" rx="9.15" ry="8.55" fill="#c0c0c0" stroke="#4775b5" stroke-width="2.1"/>
<ellipse cx="960.3" cy="1584" rx="9.15" ry="8.55" fill="#c0c0c0" stroke="#4775b5" stroke-width="2.1"/>
<ellipse cx="973" cy="1533" rx="9.15" ry="8.55" fill="#c0c0c0" stroke="#4775b5" stroke-width="2.1"/>
<ellipse cx="975.5" cy="1536.8" rx="9.15" ry="8.55" fill="#c0c0c0" stroke="#4775b5" stroke-width="2.1"/>
<ellipse cx="917" cy="1541.9" rx="9.15" ry="8.55" fill="#c0c0c0" stroke="#4775b5" stroke-width="2.1"/>
<ellipse cx="710.6" cy="1598" rx="9.15" ry="8.55" fill="#c0c0c0" stroke="#4775b5" stroke-width="2.1"/>
<ellipse cx="722" cy="1604.3" rx="9.15" ry="8.55" fill="#c0c0c0" stroke="#4775b5" stroke-width="2.1"/>
<ellipse cx="705.5" cy="1609.4" rx="9.15" ry="8.55" fill="#c0c0c0" stroke="#4775b5" stroke-width="2.1"/>
<ellipse cx="695.3" cy="1617" rx="9.15" ry="8.55" fill="#c0c0c0" stroke="#4775b5" stroke-width="2.1"/>
<ellipse cx="686.4" cy="1618.3" rx="9.15" ry="8.55" fill="#c0c0c0" stroke="#4775b5" stroke-width="2.1"/>
<ellipse cx="680" cy="1628.5" rx="9.15" ry="8.55" fill="#c0c0c0" stroke="#4775b5" stroke-width="2.1"/>
<ellipse cx="738.6" cy="1615.8" rx="9.15" ry="8.55" fill="#c0c0c0" stroke="#4775b5" stroke-width="2.1"/>
<ellipse cx="756.4" cy="1610.7" rx="9.15" ry="8.55" fill="#c0c0c0" stroke="#4775b5" stroke-width="2.1"/>
<ellipse cx="743.7" cy="1618.3" rx="9.15" ry="8.55" fill="#c0c0c0" stroke="#4775b5" stroke-width="2.1"/>
<ellipse cx="715.7" cy="1623.4" rx="9.15" ry="8.55" fill="#c0c0c0" stroke="#4775b5" stroke-width="2.1"/>
<ellipse cx="725.9" cy="1636.2" rx="9.15" ry="8.55" fill="#c0c0c0" stroke="#4775b5" stroke-width="2.1"/>
<ellipse cx="710.6" cy="1638.7" rx="9.15" ry="8.55" fill="#c0c0c0" stroke="#4775b5" stroke-width="2.1"/>
<ellipse cx="706.8" cy="1641.3" rx="9.15" ry="8.55" fill="#c0c0c0" stroke="#4775b5" stroke-width="2.1"/>
<ellipse cx="690.2" cy="1636.2" rx="9.15" ry="8.55" fill="#c0c0c0" stroke="#4775b5" stroke-width="2.1"/>
<ellipse cx="746.2" cy="1643.8" rx="9.15" ry="8.55" fill="#c0c0c0" stroke="#4775b5" stroke-width="2.1"/>
<ellipse cx="736" cy="1654" rx="9.15" ry="8.55" fill="#c0c0c0" stroke="#4775b5" stroke-width="2.1"/>
<ellipse cx="731" cy="1659.1" rx="9.15" ry="8.55" fill="#c0c0c0" stroke="#4775b5" stroke-width="2.1"/>
<ellipse cx="738.6" cy="1666.8" rx="9.15" ry="8.55" fill="#c0c0c0" stroke="#4775b5" stroke-width="2.1"/>
<ellipse cx="756.4" cy="1669.3" rx="9.15" ry="8.55" fill="#c0c0c0" stroke="#4775b5" stroke-width="2.1"/>
<ellipse cx="766.6" cy="1664.2" rx="9.15" ry="8.55" fill="#c0c0c0" stroke="#4775b5" stroke-width="2.1"/>
<ellipse cx="764.1" cy="1631.1" rx="9.15" ry="8.55" fill="#c0c0c0" stroke="#4775b5" stroke-width="2.1"/>
<ellipse cx="771.7" cy="1648.9" rx="9.15" ry="8.55" fill="#c0c0c0" stroke="#4775b5" stroke-width="2.1"/>
<ellipse cx="781.9" cy="1655.3" rx="9.15" ry="8.55" fill="#c0c0c0" stroke="#4775b5" stroke-width="2.1"/>
<ellipse cx="792.1" cy="1648.9" rx="9.15" ry="8.55" fill="#c0c0c0" stroke="#4775b5" stroke-width="2.1"/>
<ellipse cx="799.7" cy="1651.5" rx="9.15" ry="8.55" fill="#c0c0c0" stroke="#4775b5" stroke-width="2.1"/>
<ellipse cx="792.1" cy="1659.1" rx="9.15" ry="8.55" fill="#c0c0c0" stroke="#4775b5" stroke-width="2.1"/>
<ellipse cx="799.7" cy="1664.2" rx="9.15" ry="8.55" fill="#c0c0c0" stroke="#4775b5" stroke-width="2.1"/>
<ellipse cx="789.6" cy="1677" rx="9.15" ry="8.55" fill="#c0c0c0" stroke="#4775b5" stroke-width="2.1"/>
<ellipse cx="799.7" cy="1674.4" rx="9.15" ry="8.55" fill="#c0c0c0" stroke="#4775b5" stroke-width="2.1"/>
<ellipse cx="794.6" cy="1613.2" rx="9.15" ry="8.55" fill="#c0c0c0" stroke="#4775b5" stroke-width="2.1"/>
<ellipse cx="804.8" cy="1615.8" rx="9.15" ry="8.55" fill="#c0c0c0" stroke="#4775b5" stroke-width="2.1"/>
<ellipse cx="817.6" cy="1603" rx="9.15" ry="8.55" fill="#c0c0c0" stroke="#4775b5" stroke-width="2.1"/>
<ellipse cx="809.9" cy="1608.2" rx="9.15" ry="8.55" fill="#c0c0c0" stroke="#4775b5" stroke-width="2.1"/>
<ellipse cx="812.5" cy="1620.9" rx="9.15" ry="8.55" fill="#c0c0c0" stroke="#4775b5" stroke-width="2.1"/>
<ellipse cx="822.7" cy="1623.4" rx="9.15" ry="8.55" fill="#c0c0c0" stroke="#4775b5" stroke-width="2.1"/>
<ellipse cx="827.8" cy="1615.8" rx="9.15" ry="8.55" fill="#c0c0c0" stroke="#4775b5" stroke-width="2.1"/>
<ellipse cx="835.4" cy="1613.2" rx="9.15" ry="8.55" fill="#c0c0c0" stroke="#4775b5" stroke-width="2.1"/>
<ellipse cx="843.1" cy="1610.7" rx="9.15" ry="8.55" fill="#c0c0c0" stroke="#4775b5" stroke-width="2.1"/>
<ellipse cx="848.2" cy="1615.8" rx="9.15" ry="8.55" fill="#c0c0c0" stroke="#4775b5" stroke-width="2.1"/>
<ellipse cx="832.9" cy="1623.4" rx="9.15" ry="8.55" fill="#c0c0c0" stroke="#4775b5" stroke-width="2.1"/>
<ellipse cx="853.2" cy="1620.9" rx="9.15" ry="8.55" fill="#c0c0c0" stroke="#4775b5" stroke-width="2.1"/>
<ellipse cx="838" cy="1631.1" rx="9.15" ry="8.55" fill="#c0c0c0" stroke="#4775b5" stroke-width="2.1"/>
<ellipse cx="845.6" cy="1633.6" rx="9.15" ry="8.55" fill="#c0c0c0" stroke="#4775b5" stroke-width="2.1"/>
<ellipse cx="820.1" cy="1633.6" rx="9.15" ry="8.55" fill="#c0c0c0" stroke="#4775b5" stroke-width="2.1"/>
<ellipse cx="825.2" cy="1641.3" rx="9.15" ry="8.55" fill="#c0c0c0" stroke="#4775b5" stroke-width="2.1"/>
<ellipse cx="835.4" cy="1641.3" rx="9.15" ry="8.55" fill="#c0c0c0" stroke="#4775b5" stroke-width="2.1"/>
<ellipse cx="830.3" cy="1648.9" rx="9.15" ry="8.55" fill="#c0c0c0" stroke="#4775b5" stroke-width="2.1"/>
<ellipse cx="843.1" cy="1646.4" rx="9.15" ry="8.55" fill="#c0c0c0" stroke="#4775b5" stroke-width="2.1"/>
<ellipse cx="848.2" cy="1651.5" rx="9.15" ry="8.55" fill="#c0c0c0" stroke="#4775b5" stroke-width="2.1"/>
<ellipse cx="858.3" cy="1643.8" rx="9.15" ry="8.55" fill="#c0c0c0" stroke="#4775b5" stroke-width="2.1"/>
<ellipse cx="858.3" cy="1633.6" rx="9.15" ry="8.55" fill="#c0c0c0" stroke="#4775b5" stroke-width="2.1"/>
<ellipse cx="863.4" cy="1628.5" rx="9.15" ry="8.55" fill="#c0c0c0" stroke="#4775b5" stroke-width="2.1"/>
<ellipse cx="873.6" cy="1605.6" rx="9.15" ry="8.55" fill="#c0c0c0" stroke="#4775b5" stroke-width="2.1"/>
<ellipse cx="873.6" cy="1623.4" rx="9.15" ry="8.55" fill="#c0c0c0" stroke="#4775b5" stroke-width="2.1"/>
<ellipse cx="883.8" cy="1633.6" rx="9.15" ry="8.55" fill="#c0c0c0" stroke="#4775b5" stroke-width="2.1"/>
<ellipse cx="878.7" cy="1643.8" rx="9.15" ry="8.55" fill="#c0c0c0" stroke="#4775b5" stroke-width="2.1"/>
<ellipse cx="863.4" cy="1651.5" rx="9.15" ry="8.55" fill="#c0c0c0" stroke="#4775b5" stroke-width="2.1"/>
<ellipse cx="868.5" cy="1659.1" rx="9.15" ry="8.55" fill="#c0c0c0" stroke="#4775b5" stroke-width="2.1"/>
<ellipse cx="858.3" cy="1659.1" rx="9.15" ry="8.55" fill="#c0c0c0" stroke="#4775b5" stroke-width="2.1"/>
<ellipse cx="853.2" cy="1661.7" rx="9.15" ry="8.55" fill="#c0c0c0" stroke="#4775b5" stroke-width="2.1"/>
<ellipse cx="821.4" cy="1661.7" rx="9.15" ry="8.55" fill="#c0c0c0" stroke="#4775b5" stroke-width="2.1"/>
<ellipse cx="827.8" cy="1669.3" rx="9.15" ry="8.55" fill="#c0c0c0" stroke="#4775b5" stroke-width="2.1"/>
<ellipse cx="845.6" cy="1674.4" rx="9.15" ry="8.55" fill="#c0c0c0" stroke="#4775b5" stroke-width="2.1"/>
<ellipse cx="863.4" cy="1682" rx="9.15" ry="8.55" fill="#c0c0c0" stroke="#4775b5" stroke-width="2.1"/>
<ellipse cx="832.9" cy="1664.2" rx="9.15" ry="8.55" fill="#c0c0c0" stroke="#4775b5" stroke-width="2.1"/>
<ellipse cx="894" cy="1615.8" rx="9.15" ry="8.55" fill="#c0c0c0" stroke="#4775b5" stroke-width="2.1"/>
<ellipse cx="904.2" cy="1608.2" rx="9.15" ry="8.55" fill="#c0c0c0" stroke="#4775b5" stroke-width="2.1"/>
<ellipse cx="911.8" cy="1603" rx="9.15" ry="8.55" fill="#c0c0c0" stroke="#4775b5" stroke-width="2.1"/>
<ellipse cx="901.7" cy="1626" rx="9.15" ry="8.55" fill="#c0c0c0" stroke="#4775b5" stroke-width="2.1"/>
<ellipse cx="888.9" cy="1633.6" rx="9.15" ry="8.55" fill="#c0c0c0" stroke="#4775b5" stroke-width="2.1"/>
<ellipse cx="883.8" cy="1654" rx="9.15" ry="8.55" fill="#c0c0c0" stroke="#4775b5" stroke-width="2.1"/>
<ellipse cx="894" cy="1651.5" rx="9.15" ry="8.55" fill="#c0c0c0" stroke="#4775b5" stroke-width="2.1"/>
<ellipse cx="901.7" cy="1656.6" rx="9.15" ry="8.55" fill="#c0c0c0" stroke="#4775b5" stroke-width="2.1"/>
<ellipse cx="909.3" cy="1656.6" rx="9.15" ry="8.55" fill="#c0c0c0" stroke="#4775b5" stroke-width="2.1"/>
<ellipse cx="914.4" cy="1661.7" rx="9.15" ry="8.55" fill="#c0c0c0" stroke="#4775b5" stroke-width="2.1"/>
<ellipse cx="891.5" cy="1671.8" rx="9.15" ry="8.55" fill="#c0c0c0" stroke="#4775b5" stroke-width="2.1"/>
<ellipse cx="917" cy="1671.8" rx="9.15" ry="8.55" fill="#c0c0c0" stroke="#4775b5" stroke-width="2.1"/>
<ellipse cx="924.6" cy="1651.5" rx="9.15" ry="8.55" fill="#c0c0c0" stroke="#4775b5" stroke-width="2.1"/>
<ellipse cx="932.2" cy="1656.6" rx="9.15" ry="8.55" fill="#c0c0c0" stroke="#4775b5" stroke-width="2.1"/>
<ellipse cx="937.3" cy="1664.2" rx="9.15" ry="8.55" fill="#c0c0c0" stroke="#4775b5" stroke-width="2.1"/>
<ellipse cx="927.1" cy="1669.3" rx="9.15" ry="8.55" fill="#c0c0c0" stroke="#4775b5" stroke-width="2.1"/>
<ellipse cx="939.9" cy="1671.8" rx="9.15" ry="8.55" fill="#c0c0c0" stroke="#4775b5" stroke-width="2.1"/>
<ellipse cx="934.8" cy="1679.5" rx="9.15" ry="8.55" fill="#c0c0c0" stroke="#4775b5" stroke-width="2.1"/>
<ellipse cx="927.1" cy="1628.5" rx="9.15" ry="8.55" fill="#c0c0c0" stroke="#4775b5" stroke-width="2.1"/>
<ellipse cx="934.8" cy="1605.6" rx="9.15" ry="8.55" fill="#c0c0c0" stroke="#4775b5" stroke-width="2.1"/>
<ellipse cx="942.4" cy="1598" rx="9.15" ry="8.55" fill="#c0c0c0" stroke="#4775b5" stroke-width="2.1"/>
<ellipse cx="950" cy="1613.2" rx="9.15" ry="8.55" fill="#c0c0c0" stroke="#4775b5" stroke-width="2.1"/>
<ellipse cx="945" cy="1626" rx="9.15" ry="8.55" fill="#c0c0c0" stroke="#4775b5" stroke-width="2.1"/>
<ellipse cx="955.2" cy="1623.4" rx="9.15" ry="8.55" fill="#c0c0c0" stroke="#4775b5" stroke-width="2.1"/>
<ellipse cx="947.5" cy="1636.2" rx="9.15" ry="8.55" fill="#c0c0c0" stroke="#4775b5" stroke-width="2.1"/>
<ellipse cx="965.4" cy="1631.1" rx="9.15" ry="8.55" fill="#c0c0c0" stroke="#4775b5" stroke-width="2.1"/>
<ellipse cx="970.4" cy="1638.7" rx="9.15" ry="8.55" fill="#c0c0c0" stroke="#4775b5" stroke-width="2.1"/>
<ellipse cx="975.5" cy="1651.5" rx="9.15" ry="8.55" fill="#c0c0c0" stroke="#4775b5" stroke-width="2.1"/>
<ellipse cx="973" cy="1659.1" rx="9.15" ry="8.55" fill="#c0c0c0" stroke="#4775b5" stroke-width="2.1"/>
<ellipse cx="978.1" cy="1664.2" rx="9.15" ry="8.55" fill="#c0c0c0" stroke="#4775b5" stroke-width="2.1"/>
<ellipse cx="970.4" cy="1671.8" rx="9.15" ry="8.55" fill="#c0c0c0" stroke="#4775b5" stroke-width="2.1"/>
<ellipse cx="985.7" cy="1669.3" rx="9.15" ry="8.55" fill="#c0c0c0" stroke="#4775b5" stroke-width="2.1"/>
<ellipse cx="990.8" cy="1677" rx="9.15" ry="8.55" fill="#c0c0c0" stroke="#4775b5" stroke-width="2.1"/>
<ellipse cx="997.2" cy="1680.8" rx="9.15" ry="8.55" fill="#c0c0c0" stroke="#4775b5" stroke-width="2.1"/>
<ellipse cx="980.6" cy="1691" rx="9.15" ry="8.55" fill="#c0c0c0" stroke="#4775b5" stroke-width="2.1"/>
<ellipse cx="967.9" cy="1696" rx="9.15" ry="8.55" fill="#c0c0c0" stroke="#4775b5" stroke-width="2.1"/>
<ellipse cx="962.8" cy="1705" rx="9.15" ry="8.55" fill="#c0c0c0" stroke="#4775b5" stroke-width="2.1"/>
<ellipse cx="970.4" cy="1715.2" rx="9.15" ry="8.55" fill="#c0c0c0" stroke="#4775b5" stroke-width="2.1"/>
<ellipse cx="978.1" cy="1615.8" rx="9.15" ry="8.55" fill="#c0c0c0" stroke="#4775b5" stroke-width="2.1"/>
<ellipse cx="985.7" cy="1626" rx="9.15" ry="8.55" fill="#c0c0c0" stroke="#4775b5" stroke-width="2.1"/>
<ellipse cx="995.9" cy="1613.2" rx="9.15" ry="8.55" fill="#c0c0c0" stroke="#4775b5" stroke-width="2.1"/>
<ellipse cx="1003.6" cy="1598" rx="9.15" ry="8.55" fill="#c0c0c0" stroke="#4775b5" stroke-width="2.1"/>
<ellipse cx="1016.3" cy="1605.6" rx="9.15" ry="8.55" fill="#c0c0c0" stroke="#4775b5" stroke-width="2.1"/>
<ellipse cx="1008.7" cy="1618.3" rx="9.15" ry="8.55" fill="#c0c0c0" stroke="#4775b5" stroke-width="2.1"/>
<ellipse cx="1001" cy="1633.6" rx="9.15" ry="8.55" fill="#c0c0c0" stroke="#4775b5" stroke-width="2.1"/>
<ellipse cx="1001" cy="1648.9" rx="9.15" ry="8.55" fill="#c0c0c0" stroke="#4775b5" stroke-width="2.1"/>
<ellipse cx="1011.2" cy="1659.1" rx="9.15" ry="8.55" fill="#c0c0c0" stroke="#4775b5" stroke-width="2.1"/>
<ellipse cx="1021.4" cy="1664.2" rx="9.15" ry="8.55" fill="#c0c0c0" stroke="#4775b5" stroke-width="2.1"/>
<ellipse cx="1018.9" cy="1628.5" rx="9.15" ry="8.55" fill="#c0c0c0" stroke="#4775b5" stroke-width="2.1"/>
<ellipse cx="1031.6" cy="1641.3" rx="9.15" ry="8.55" fill="#c0c0c0" stroke="#4775b5" stroke-width="2.1"/>
<ellipse cx="1029" cy="1618.3" rx="9.15" ry="8.55" fill="#c0c0c0" stroke="#4775b5" stroke-width="2.1"/>
<ellipse cx="1041.8" cy="1603" rx="9.15" ry="8.55" fill="#c0c0c0" stroke="#4775b5" stroke-width="2.1"/>
<ellipse cx="1041.8" cy="1626" rx="9.15" ry="8.55" fill="#c0c0c0" stroke="#4775b5" stroke-width="2.1"/>
<ellipse cx="1046.9" cy="1661.7" rx="9.15" ry="8.55" fill="#c0c0c0" stroke="#4775b5" stroke-width="2.1"/>
<ellipse cx="1067.3" cy="1623.4" rx="9.15" ry="8.55" fill="#c0c0c0" stroke="#4775b5" stroke-width="2.1"/>
<ellipse cx="1072.4" cy="1648.9" rx="9.15" ry="8.55" fill="#c0c0c0" stroke="#4775b5" stroke-width="2.1"/>
<ellipse cx="1074.9" cy="1697.3" rx="9.15" ry="8.55" fill="#c0c0c0" stroke="#4775b5" stroke-width="2.1"/>
<ellipse cx="1036.7" cy="1613.2" rx="9.15" ry="8.55" fill="#c0c0c0" stroke="#4775b5" stroke-width="2.1"/>
<ellipse cx="1023.9" cy="1633.6" rx="9.15" ry="8.55" fill="#c0c0c0" stroke="#4775b5" stroke-width="2.1"/>
<ellipse cx="685.1" cy="1677" rx="9.15" ry="8.55" fill="#c0c0c0" stroke="#4775b5" stroke-width="2.1"/>
<ellipse cx="695.3" cy="1684.6" rx="9.15" ry="8.55" fill="#c0c0c0" stroke="#4775b5" stroke-width="2.1"/>
<ellipse cx="713.1" cy="1677" rx="9.15" ry="8.55" fill="#c0c0c0" stroke="#4775b5" stroke-width="2.1"/>
<ellipse cx="705.5" cy="1674.4" rx="9.15" ry="8.55" fill="#c0c0c0" stroke="#4775b5" stroke-width="2.1"/>
<ellipse cx="718.2" cy="1689.7" rx="9.15" ry="8.55" fill="#c0c0c0" stroke="#4775b5" stroke-width="2.1"/>
<ellipse cx="725.9" cy="1694.8" rx="9.15" ry="8.55" fill="#c0c0c0" stroke="#4775b5" stroke-width="2.1"/>
<ellipse cx="736" cy="1699.9" rx="9.15" ry="8.55" fill="#c0c0c0" stroke="#4775b5" stroke-width="2.1"/>
<ellipse cx="741.1" cy="1705" rx="9.15" ry="8.55" fill="#c0c0c0" stroke="#4775b5" stroke-width="2.1"/>
<ellipse cx="748.8" cy="1710.1" rx="9.15" ry="8.55" fill="#c0c0c0" stroke="#4775b5" stroke-width="2.1"/>
<ellipse cx="751.3" cy="1717.7" rx="9.15" ry="8.55" fill="#c0c0c0" stroke="#4775b5" stroke-width="2.1"/>
<ellipse cx="756.4" cy="1710.1" rx="9.15" ry="8.55" fill="#c0c0c0" stroke="#4775b5" stroke-width="2.1"/>
<ellipse cx="728.4" cy="1722.8" rx="9.15" ry="8.55" fill="#c0c0c0" stroke="#4775b5" stroke-width="2.1"/>
<ellipse cx="733.5" cy="1727.9" rx="9.15" ry="8.55" fill="#c0c0c0" stroke="#4775b5" stroke-width="2.1"/>
<ellipse cx="743.7" cy="1720.3" rx="9.15" ry="8.55" fill="#c0c0c0" stroke="#4775b5" stroke-width="2.1"/>
<ellipse cx="766.6" cy="1694.8" rx="9.15" ry="8.55" fill="#c0c0c0" stroke="#4775b5" stroke-width="2.1"/>
<ellipse cx="776.8" cy="1697.3" rx="9.15" ry="8.55" fill="#c0c0c0" stroke="#4775b5" stroke-width="2.1"/>
<ellipse cx="784.5" cy="1694.8" rx="9.15" ry="8.55" fill="#c0c0c0" stroke="#4775b5" stroke-width="2.1"/>
<ellipse cx="792.1" cy="1712.6" rx="9.15" ry="8.55" fill="#c0c0c0" stroke="#4775b5" stroke-width="2.1"/>
<ellipse cx="820.1" cy="1702.4" rx="9.15" ry="8.55" fill="#c0c0c0" stroke="#4775b5" stroke-width="2.1"/>
<ellipse cx="832.9" cy="1715.2" rx="9.15" ry="8.55" fill="#c0c0c0" stroke="#4775b5" stroke-width="2.1"/>
<ellipse cx="848.2" cy="1717.7" rx="9.15" ry="8.55" fill="#c0c0c0" stroke="#4775b5" stroke-width="2.1"/>
<ellipse cx="866" cy="1710.1" rx="9.15" ry="8.55" fill="#c0c0c0" stroke="#4775b5" stroke-width="2.1"/>
<ellipse cx="868.5" cy="1722.8" rx="9.15" ry="8.55" fill="#c0c0c0" stroke="#4775b5" stroke-width="2.1"/>
<ellipse cx="896.6" cy="1697.3" rx="9.15" ry="8.55" fill="#c0c0c0" stroke="#4775b5" stroke-width="2.1"/>
<ellipse cx="919.5" cy="1692.2" rx="9.15" ry="8.55" fill="#c0c0c0" stroke="#4775b5" stroke-width="2.1"/>
<ellipse cx="1198.3" cy="1598.3" rx="9.15" ry="8.55" fill="#c0c0c0" stroke="#4775b5" stroke-width="2.1"/>
<ellipse cx="1101.3" cy="1618" rx="9.15" ry="8.55" fill="#c0c0c0" stroke="#4775b5" stroke-width="2.1"/>
<ellipse cx="1167.5" cy="1622.5" rx="9.15" ry="8.55" fill="#c0c0c0" stroke="#4775b5" stroke-width="2.1"/>
<ellipse cx="1180.3" cy="1623.8" rx="9.15" ry="8.55" fill="#c0c0c0" stroke="#4775b5" stroke-width="2.1"/>
<ellipse cx="1150.4" cy="1668.4" rx="9.15" ry="8.55" fill="#c0c0c0" stroke="#4775b5" stroke-width="2.1"/>
<ellipse cx="1099.5" cy="1707.9" rx="9.15" ry="8.55" fill="#c0c0c0" stroke="#4775b5" stroke-width="2.1"/>
<ellipse cx="867.1" cy="1434.5" rx="9.15" ry="8.55" fill="#c0c0c0" stroke="#4775b5" stroke-width="2.1"/>
<ellipse cx="369.2" cy="1777.3" rx="9.15" ry="8.55" fill="#c0c0c0" stroke="#4775b5" stroke-width="2.1"/>
<ellipse cx="425.7" cy="1755.7" rx="9.15" ry="8.55" fill="#c0c0c0" stroke="#4775b5" stroke-width="2.1"/>
<ellipse cx="503.4" cy="1744.2" rx="9.15" ry="8.55" fill="#c0c0c0" stroke="#4775b5" stroke-width="2.1"/>
<ellipse cx="542.9" cy="1742.9" rx="9.15" ry="8.55" fill="#c0c0c0" stroke="#4775b5" stroke-width="2.1"/>
<ellipse cx="552.1" cy="1762.8" rx="9.15" ry="8.55" fill="#c0c0c0" stroke="#4775b5" stroke-width="2.1"/>
<ellipse cx="574.8" cy="1746.2" rx="9.15" ry="8.55" fill="#c0c0c0" stroke="#4775b5" stroke-width="2.1"/>
<ellipse cx="580.6" cy="1760.8" rx="9.15" ry="8.55" fill="#c0c0c0" stroke="#4775b5" stroke-width="2.1"/>
<ellipse cx="592.9" cy="1737.8" rx="9.15" ry="8.55" fill="#c0c0c0" stroke="#4775b5" stroke-width="2.1"/>
<ellipse cx="621.4" cy="1734.8" rx="9.15" ry="8.55" fill="#c0c0c0" stroke="#4775b5" stroke-width="2.1"/>
<ellipse cx="620.9" cy="1745.5" rx="9.15" ry="8.55" fill="#c0c0c0" stroke="#4775b5" stroke-width="2.1"/>
<ellipse cx="619.6" cy="1758.7" rx="9.15" ry="8.55" fill="#c0c0c0" stroke="#4775b5" stroke-width="2.1"/>
<ellipse cx="649.4" cy="1751.8" rx="9.15" ry="8.55" fill="#c0c0c0" stroke="#4775b5" stroke-width="2.1"/>
<ellipse cx="657.1" cy="1764.6" rx="9.15" ry="8.55" fill="#c0c0c0" stroke="#4775b5" stroke-width="2.1"/>
<ellipse cx="669.8" cy="1739.1" rx="9.15" ry="8.55" fill="#c0c0c0" stroke="#4775b5" stroke-width="2.1"/>
<ellipse cx="653.8" cy="1789.6" rx="9.15" ry="8.55" fill="#c0c0c0" stroke="#4775b5" stroke-width="2.1"/>
<ellipse cx="646.1" cy="1875.9" rx="9.15" ry="8.55" fill="#c0c0c0" stroke="#4775b5" stroke-width="2.1"/>
<ellipse cx="700.4" cy="1750.1" rx="9.15" ry="8.55" fill="#c0c0c0" stroke="#4775b5" stroke-width="2.1"/>
<ellipse cx="731" cy="1750.6" rx="9.15" ry="8.55" fill="#c0c0c0" stroke="#4775b5" stroke-width="2.1"/>
<ellipse cx="736" cy="1736.6" rx="9.15" ry="8.55" fill="#c0c0c0" stroke="#4775b5" stroke-width="2.1"/>
<ellipse cx="744.5" cy="1753.9" rx="9.15" ry="8.55" fill="#c0c0c0" stroke="#4775b5" stroke-width="2.1"/>
<ellipse cx="750.1" cy="1745.5" rx="9.15" ry="8.55" fill="#c0c0c0" stroke="#4775b5" stroke-width="2.1"/>
<ellipse cx="759" cy="1756.4" rx="9.15" ry="8.55" fill="#c0c0c0" stroke="#4775b5" stroke-width="2.1"/>
<ellipse cx="767.9" cy="1767.1" rx="9.15" ry="8.55" fill="#c0c0c0" stroke="#4775b5" stroke-width="2.1"/>
<ellipse cx="775.5" cy="1763.3" rx="9.15" ry="8.55" fill="#c0c0c0" stroke="#4775b5" stroke-width="2.1"/>
<ellipse cx="774.3" cy="1730.2" rx="9.15" ry="8.55" fill="#c0c0c0" stroke="#4775b5" stroke-width="2.1"/>
<ellipse cx="792.1" cy="1731.5" rx="9.15" ry="8.55" fill="#c0c0c0" stroke="#4775b5" stroke-width="2.1"/>
<ellipse cx="708.5" cy="1779.4" rx="9.15" ry="8.55" fill="#c0c0c0" stroke="#4775b5" stroke-width="2.1"/>
<ellipse cx="712.4" cy="1787.5" rx="9.15" ry="8.55" fill="#c0c0c0" stroke="#4775b5" stroke-width="2.1"/>
<ellipse cx="691.5" cy="1794.6" rx="9.15" ry="8.55" fill="#c0c0c0" stroke="#4775b5" stroke-width="2.1"/>
<ellipse cx="764.6" cy="1781.9" rx="9.15" ry="8.55" fill="#c0c0c0" stroke="#4775b5" stroke-width="2.1"/>
<ellipse cx="733.5" cy="1825.2" rx="9.15" ry="8.55" fill="#c0c0c0" stroke="#4775b5" stroke-width="2.1"/>
<ellipse cx="695.8" cy="1857.1" rx="9.15" ry="8.55" fill="#c0c0c0" stroke="#4775b5" stroke-width="2.1"/>
<ellipse cx="771" cy="1854.5" rx="9.15" ry="8.55" fill="#c0c0c0" stroke="#4775b5" stroke-width="2.1"/>
<ellipse cx="722" cy="1891.5" rx="9.15" ry="8.55" fill="#c0c0c0" stroke="#4775b5" stroke-width="2.1"/>
<ellipse cx="825.2" cy="1750.6" rx="9.15" ry="8.55" fill="#c0c0c0" stroke="#4775b5" stroke-width="2.1"/>
<ellipse cx="835.4" cy="1746.8" rx="9.15" ry="8.55" fill="#c0c0c0" stroke="#4775b5" stroke-width="2.1"/>
<ellipse cx="838" cy="1791.3" rx="9.15" ry="8.55" fill="#c0c0c0" stroke="#4775b5" stroke-width="2.1"/>
<ellipse cx="882" cy="1785.5" rx="9.15" ry="8.55" fill="#c0c0c0" stroke="#4775b5" stroke-width="2.1"/>
<ellipse cx="895.8" cy="1779.9" rx="9.15" ry="8.55" fill="#c0c0c0" stroke="#4775b5" stroke-width="2.1"/>
<ellipse cx="918.2" cy="1739.1" rx="9.15" ry="8.55" fill="#c0c0c0" stroke="#4775b5" stroke-width="2.1"/>
<ellipse cx="957.2" cy="1732.7" rx="9.15" ry="8.55" fill="#c0c0c0" stroke="#4775b5" stroke-width="2.1"/>
<ellipse cx="962.8" cy="1731.5" rx="9.15" ry="8.55" fill="#c0c0c0" stroke="#4775b5" stroke-width="2.1"/>
<ellipse cx="875.7" cy="1884.8" rx="9.15" ry="8.55" fill="#c0c0c0" stroke="#4775b5" stroke-width="2.1"/>
<ellipse cx="862.4" cy="1909.3" rx="9.15" ry="8.55" fill="#c0c0c0" stroke="#4775b5" stroke-width="2.1"/>
<ellipse cx="896" cy="1934.8" rx="9.15" ry="8.55" fill="#c0c0c0" stroke="#4775b5" stroke-width="2.1"/>
<ellipse cx="985.2" cy="1920" rx="9.15" ry="8.55" fill="#c0c0c0" stroke="#4775b5" stroke-width="2.1"/>
<ellipse cx="902.9" cy="1491" rx="9.6" ry="9.0" fill="#20b04b" stroke="#5cc068" stroke-width="1.5"/>
<ellipse cx="923.3" cy="1493.5" rx="9.6" ry="9.0" fill="#20b04b" stroke="#5cc068" stroke-width="1.5"/>
<ellipse cx="914.4" cy="1499.9" rx="9.6" ry="9.0" fill="#20b04b" stroke="#5cc068" stroke-width="1.5"/>
<ellipse cx="909.3" cy="1503.7" rx="9.6" ry="9.0" fill="#20b04b" stroke="#5cc068" stroke-width="1.5"/>
<ellipse cx="910.6" cy="1511.3" rx="9.6" ry="9.0" fill="#20b04b" stroke="#5cc068" stroke-width="1.5"/>
<ellipse cx="924.6" cy="1521.5" rx="9.6" ry="9.0" fill="#20b04b" stroke="#5cc068" stroke-width="1.5"/>
<ellipse cx="945" cy="1521.5" rx="9.6" ry="9.0" fill="#20b04b" stroke="#5cc068" stroke-width="1.5"/>
<ellipse cx="896.6" cy="1530.4" rx="9.6" ry="9.0" fill="#20b04b" stroke="#5cc068" stroke-width="1.5"/>
<ellipse cx="917" cy="1526.6" rx="9.6" ry="9.0" fill="#20b04b" stroke="#5cc068" stroke-width="1.5"/>
<ellipse cx="927.1" cy="1533" rx="9.6" ry="9.0" fill="#20b04b" stroke="#5cc068" stroke-width="1.5"/>
<ellipse cx="934.8" cy="1531.7" rx="9.6" ry="9.0" fill="#20b04b" stroke="#5cc068" stroke-width="1.5"/>
<ellipse cx="955.2" cy="1527.9" rx="9.6" ry="9.0" fill="#20b04b" stroke="#5cc068" stroke-width="1.5"/>
<ellipse cx="960.3" cy="1536.8" rx="9.6" ry="9.0" fill="#20b04b" stroke="#5cc068" stroke-width="1.5"/>
<ellipse cx="947.5" cy="1536.8" rx="9.6" ry="9.0" fill="#20b04b" stroke="#5cc068" stroke-width="1.5"/>
<ellipse cx="937.3" cy="1549.6" rx="9.6" ry="9.0" fill="#20b04b" stroke="#5cc068" stroke-width="1.5"/>
<ellipse cx="909.3" cy="1549.6" rx="9.6" ry="9.0" fill="#20b04b" stroke="#5cc068" stroke-width="1.5"/>
<ellipse cx="901.7" cy="1554.6" rx="9.6" ry="9.0" fill="#20b04b" stroke="#5cc068" stroke-width="1.5"/>
<ellipse cx="891.5" cy="1547" rx="9.6" ry="9.0" fill="#20b04b" stroke="#5cc068" stroke-width="1.5"/>
<ellipse cx="888.9" cy="1557.2" rx="9.6" ry="9.0" fill="#20b04b" stroke="#5cc068" stroke-width="1.5"/>
<ellipse cx="894" cy="1559.7" rx="9.6" ry="9.0" fill="#20b04b" stroke="#5cc068" stroke-width="1.5"/>
<ellipse cx="909.3" cy="1559.7" rx="9.6" ry="9.0" fill="#20b04b" stroke="#5cc068" stroke-width="1.5"/>
<ellipse cx="917" cy="1557.2" rx="9.6" ry="9.0" fill="#20b04b" stroke="#5cc068" stroke-width="1.5"/>
<ellipse cx="924.6" cy="1562.3" rx="9.6" ry="9.0" fill="#20b04b" stroke="#5cc068" stroke-width="1.5"/>
<ellipse cx="929.7" cy="1569.9" rx="9.6" ry="9.0" fill="#20b04b" stroke="#5cc068" stroke-width="1.5"/>
<ellipse cx="939.9" cy="1541.9" rx="9.6" ry="9.0" fill="#20b04b" stroke="#5cc068" stroke-width="1.5"/>
<ellipse cx="919.5" cy="1547" rx="9.6" ry="9.0" fill="#20b04b" stroke="#5cc068" stroke-width="1.5"/>
<ellipse cx="979.4" cy="1475.7" rx="9.8" ry="9.2" fill="#ed1c24" stroke="#be4b48" stroke-width="1.9"/>
<ellipse cx="1030.3" cy="1464.2" rx="9.8" ry="9.2" fill="#ed1c24" stroke="#be4b48" stroke-width="1.9"/>
<ellipse cx="1058.3" cy="1477.7" rx="9.8" ry="9.2" fill="#ed1c24" stroke="#be4b48" stroke-width="1.9"/>
<ellipse cx="1011.2" cy="1496" rx="9.8" ry="9.2" fill="#ed1c24" stroke="#be4b48" stroke-width="1.9"/>
<ellipse cx="1057.1" cy="1499.9" rx="9.8" ry="9.2" fill="#ed1c24" stroke="#be4b48" stroke-width="1.9"/>
<ellipse cx="1067.3" cy="1507.5" rx="9.8" ry="9.2" fill="#ed1c24" stroke="#be4b48" stroke-width="1.9"/>
<ellipse cx="1038" cy="1511.3" rx="9.8" ry="9.2" fill="#ed1c24" stroke="#be4b48" stroke-width="1.9"/>
<ellipse cx="1006.1" cy="1519" rx="9.8" ry="9.2" fill="#ed1c24" stroke="#be4b48" stroke-width="1.9"/>
<ellipse cx="1022.7" cy="1519" rx="9.8" ry="9.2" fill="#ed1c24" stroke="#be4b48" stroke-width="1.9"/>
<ellipse cx="1064.7" cy="1517.7" rx="9.8" ry="9.2" fill="#ed1c24" stroke="#be4b48" stroke-width="1.9"/>
<ellipse cx="981.9" cy="1524.1" rx="9.8" ry="9.2" fill="#ed1c24" stroke="#be4b48" stroke-width="1.9"/>
<ellipse cx="967.9" cy="1530.4" rx="9.8" ry="9.2" fill="#ed1c24" stroke="#be4b48" stroke-width="1.9"/>
<ellipse cx="1034.1" cy="1531.7" rx="9.8" ry="9.2" fill="#ed1c24" stroke="#be4b48" stroke-width="1.9"/>
<ellipse cx="975.5" cy="1549.6" rx="9.8" ry="9.2" fill="#ed1c24" stroke="#be4b48" stroke-width="1.9"/>
<ellipse cx="998.5" cy="1552.1" rx="9.8" ry="9.2" fill="#ed1c24" stroke="#be4b48" stroke-width="1.9"/>
<ellipse cx="1016.3" cy="1541.9" rx="9.8" ry="9.2" fill="#ed1c24" stroke="#be4b48" stroke-width="1.9"/>
<ellipse cx="1049.4" cy="1543.2" rx="9.8" ry="9.2" fill="#ed1c24" stroke="#be4b48" stroke-width="1.9"/>
<ellipse cx="1069.8" cy="1547" rx="9.8" ry="9.2" fill="#ed1c24" stroke="#be4b48" stroke-width="1.9"/>
<ellipse cx="1024" cy="1554.6" rx="9.8" ry="9.2" fill="#ed1c24" stroke="#be4b48" stroke-width="1.9"/>
<ellipse cx="1031.6" cy="1559.7" rx="9.8" ry="9.2" fill="#ed1c24" stroke="#be4b48" stroke-width="1.9"/>
<ellipse cx="1057.1" cy="1557.2" rx="9.8" ry="9.2" fill="#ed1c24" stroke="#be4b48" stroke-width="1.9"/>
<ellipse cx="1072.4" cy="1552.1" rx="9.8" ry="9.2" fill="#ed1c24" stroke="#be4b48" stroke-width="1.9"/>
<ellipse cx="967.9" cy="1564.8" rx="9.8" ry="9.2" fill="#ed1c24" stroke="#be4b48" stroke-width="1.9"/>
<ellipse cx="979.4" cy="1562.3" rx="9.8" ry="9.2" fill="#ed1c24" stroke="#be4b48" stroke-width="1.9"/>
<ellipse cx="1077.5" cy="1567.4" rx="9.8" ry="9.2" fill="#ed1c24" stroke="#be4b48" stroke-width="1.9"/>
<ellipse cx="995.9" cy="1554.6" rx="9.8" ry="9.2" fill="#ed1c24" stroke="#be4b48" stroke-width="1.9"/>
<ellipse cx="1091.1" cy="1514.3" rx="9.8" ry="9.2" fill="#ed1c24" stroke="#be4b48" stroke-width="1.9"/>
<ellipse cx="1116.6" cy="1508.7" rx="9.8" ry="9.2" fill="#ed1c24" stroke="#be4b48" stroke-width="1.9"/>
<ellipse cx="1163.2" cy="1504.6" rx="9.8" ry="9.2" fill="#ed1c24" stroke="#be4b48" stroke-width="1.9"/>
<ellipse cx="1177.7" cy="1498.5" rx="9.8" ry="9.2" fill="#ed1c24" stroke="#be4b48" stroke-width="1.9"/>
<ellipse cx="1171.6" cy="1521.9" rx="9.8" ry="9.2" fill="#ed1c24" stroke="#be4b48" stroke-width="1.9"/>
<ellipse cx="1209.8" cy="1529.6" rx="9.8" ry="9.2" fill="#ed1c24" stroke="#be4b48" stroke-width="1.9"/>
<ellipse cx="1328" cy="1487.5" rx="9.8" ry="9.2" fill="#ed1c24" stroke="#be4b48" stroke-width="1.9"/>
<ellipse cx="1342.8" cy="1487.5" rx="9.8" ry="9.2" fill="#ed1c24" stroke="#be4b48" stroke-width="1.9"/>
<ellipse cx="1327.5" cy="1507.9" rx="9.8" ry="9.2" fill="#ed1c24" stroke="#be4b48" stroke-width="1.9"/>
<ellipse cx="1098.2" cy="1544.1" rx="9.8" ry="9.2" fill="#ed1c24" stroke="#be4b48" stroke-width="1.9"/>
<ellipse cx="1117.3" cy="1550.4" rx="9.8" ry="9.2" fill="#ed1c24" stroke="#be4b48" stroke-width="1.9"/>
<ellipse cx="1081.7" cy="1567.8" rx="9.8" ry="9.2" fill="#ed1c24" stroke="#be4b48" stroke-width="1.9"/>
<ellipse cx="1237.8" cy="1562.7" rx="9.8" ry="9.2" fill="#ed1c24" stroke="#be4b48" stroke-width="1.9"/>
<ellipse cx="1213.6" cy="1436.6" rx="9.8" ry="9.2" fill="#ed1c24" stroke="#be4b48" stroke-width="1.9"/>
<ellipse cx="1424.3" cy="1311.6" rx="9.8" ry="9.2" fill="#ed1c24" stroke="#be4b48" stroke-width="1.9"/>
<text x="223.85" y="1677.90" font-size="29.5" fill="#000">-4</text>
<text x="368.30" y="1677.90" font-size="29.5" fill="#000">-3</text>
<text x="512.75" y="1677.90" font-size="29.5" fill="#000">-2</text>
<text x="656.97" y="1677.90" font-size="29.5" fill="#000">-1</text>
<text x="806.14" y="1677.90" font-size="29.5" fill="#000">0</text>
<text x="950.07" y="1677.90" font-size="29.5" fill="#000">1</text>
<text x="1094.81" y="1677.90" font-size="29.5" fill="#000">2</text>
<text x="1239.11" y="1677.90" font-size="29.5" fill="#000">3</text>
<text x="1383.56" y="1677.90" font-size="29.5" fill="#000">4</text>
<text x="1527.71" y="1677.90" font-size="29.5" fill="#000">5</text>
<text x="771.71" y="1268.32" font-size="29.5" fill="#000">6</text>
<text x="771.41" y="1393.88" font-size="29.5" fill="#000">4</text>
<text x="772.00" y="1519.44" font-size="29.5" fill="#000">2</text>
<text x="771.56" y="1645.00" font-size="29.5" fill="#000">0</text>
<text x="762.12" y="1770.56" font-size="29.5" fill="#000">-2</text>
<text x="761.53" y="1896.12" font-size="29.5" fill="#000">-4</text>
<text x="761.82" y="2021.68" font-size="29.5" fill="#000">-6</text>
<text x="889.20" y="1445.50" font-size="34.3" fill="#000" textLength="100.84" lengthAdjust="spacingAndGlyphs">Sey1p</text>
<text x="1424.17" y="1377.20" font-size="34.3" fill="#000" textLength="103.70" lengthAdjust="spacingAndGlyphs">Yop1p</text>
<text x="1266.34" y="1436.30" font-size="34.3" fill="#000" textLength="95.52" lengthAdjust="spacingAndGlyphs">Rtn2p</text>
<text x="1329.30" y="1575.90" font-size="34.3" fill="#000" textLength="96.57" lengthAdjust="spacingAndGlyphs">Rtn1p</text>
<line x1="915.5" y1="1454.9" x2="992.9" y2="1505.7" stroke="#000" stroke-width="3"/>
<line x1="1432.2" y1="1320.1" x2="1456.1" y2="1349.7" stroke="#000" stroke-width="3"/>
<line x1="1295.7" y1="1444.7" x2="1316.6" y2="1472.2" stroke="#000" stroke-width="3"/>
<line x1="1333.9" y1="1518.1" x2="1352.5" y2="1544.8" stroke="#000" stroke-width="3"/>
<text x="686.23" y="2084.2" font-size="33.5">TU:BL ratios (log<tspan font-size="22" dy="7.5">2</tspan><tspan dy="-7.5">)</tspan></text>
<text transform="translate(172.7,1764.4) rotate(-90)" x="-0.67" y="0" font-size="33.5">TU:TO ratios (log<tspan font-size="22" dy="7.5">2</tspan><tspan dy="-7.5">)</tspan></text>
<text x="-0.30" y="2185.70" font-size="77.5" fill="#000">D</text>
<text x="144.10" y="2283.40" font-size="33.7" fill="#231f20" textLength="97.51" lengthAdjust="spacingAndGlyphs">Ratio2</text>
<rect x="166.4" y="2309.7" width="39.3" height="39" fill="#d03236"/>
<rect x="166.4" y="2370.2" width="39.3" height="39" fill="#92c853"/>
<rect x="166.4" y="2430.7" width="39.3" height="39" fill="#0b6fa3"/>
<rect x="166.4" y="2491.2" width="39.3" height="39" fill="#9696c8"/>
<text x="224.72" y="2341.90" font-size="33.7" fill="#000">&gt; 2</text>
<text x="101.31" y="2405.60" font-size="33.7" fill="#000">2 &gt;</text>
<text x="224.72" y="2405.60" font-size="33.7" fill="#000">&gt; 1.4</text>
<text x="72.57" y="2466.10" font-size="33.7" fill="#000">1.4 &gt;</text>
<text x="223.70" y="2519.30" font-size="33.7" fill="#000">NQ</text>
<path d="M397.6,2778 L533.41,2559.81 A257,257 0 0 1 643.75,2851.87 Z" fill="#d13335"/>
<path d="M397.6,2778 L643.75,2851.87 A257,257 0 0 1 506.14,3010.95 Z" fill="#93c954"/>
<path d="M397.6,2778 L506.14,3010.95 A257,257 0 0 1 154.66,2694.15 Z" fill="#0a6ea0"/>
<path d="M397.6,2778 L154.66,2694.15 A257,257 0 0 1 533.41,2559.81 Z" fill="#9595c8"/>
<text x="321.84" y="2651.00" font-size="51" fill="#fff">66</text>
<text x="524.21" y="2735.00" font-size="51" fill="#fff">48</text>
<text x="278.17" y="2898.00" font-size="51" fill="#fff">86</text>
<text x="497.12" y="2902.00" font-size="51" fill="#fff">31</text>
<text x="676.50" y="2527.60" font-size="33.7" fill="#000" textLength="156.85" lengthAdjust="spacingAndGlyphs">Known TU</text>
<text x="706.74" y="2591.00" font-size="34.3" fill="#c8373b" textLength="96.64" lengthAdjust="spacingAndGlyphs">Yop1p</text>
<text x="705.92" y="2640.50" font-size="34.3" fill="#c8373b" textLength="89.33" lengthAdjust="spacingAndGlyphs">Rtn1p</text>
<text x="705.92" y="2692.00" font-size="34.3" fill="#c8373b" textLength="89.33" lengthAdjust="spacingAndGlyphs">Rtn2p</text>
<text x="706.49" y="2741.70" font-size="34.3" fill="#c8373b" textLength="94.86" lengthAdjust="spacingAndGlyphs">Sey1p</text>
<text x="706.91" y="2791.80" font-size="34.3" fill="#c8373b" textLength="92.50" lengthAdjust="spacingAndGlyphs">Tcb3p</text>
<text x="707.11" y="2918.80" font-size="34.3" fill="#1fa24e" textLength="92.71" lengthAdjust="spacingAndGlyphs">Tcb1p</text>
<text x="707.11" y="2971.00" font-size="34.3" fill="#1fa24e" textLength="92.71" lengthAdjust="spacingAndGlyphs">Tcb2p</text>
<line x1="553.1" y1="2552.3" x2="870.3" y2="2261.8" stroke="#000" stroke-width="5.2" stroke-dasharray="24.40 20.68"/>
<line x1="513.8" y1="3020.1" x2="909.9" y2="3139.1" stroke="#000" stroke-width="5.2" stroke-dasharray="24.40 18.84"/>
<line x1="1271" y1="2186.3" x2="1271" y2="2612.5" stroke="#a08c82" stroke-width="3.8"/>
<line x1="1256.3" y1="2188.2" x2="1271" y2="2188.2" stroke="#a08c82" stroke-width="3.8"/>
<line x1="1256.3" y1="2272.7" x2="1271" y2="2272.7" stroke="#a08c82" stroke-width="3.8"/>
<line x1="1256.3" y1="2357.2" x2="1271" y2="2357.2" stroke="#a08c82" stroke-width="3.8"/>
<line x1="1256.3" y1="2441.6" x2="1271" y2="2441.6" stroke="#a08c82" stroke-width="3.8"/>
<line x1="1256.3" y1="2526.1" x2="1271" y2="2526.1" stroke="#a08c82" stroke-width="3.8"/>
<line x1="1256.3" y1="2610.6" x2="1652.5" y2="2610.6" stroke="#a08c82" stroke-width="3.8"/>
<line x1="1270.6" y1="2610.6" x2="1270.6" y2="2625.4" stroke="#a08c82" stroke-width="3.8"/>
<line x1="1365.6" y1="2610.6" x2="1365.6" y2="2625.4" stroke="#a08c82" stroke-width="3.8"/>
<line x1="1460.6" y1="2610.6" x2="1460.6" y2="2625.4" stroke="#a08c82" stroke-width="3.8"/>
<line x1="1555.6" y1="2610.6" x2="1555.6" y2="2625.4" stroke="#a08c82" stroke-width="3.8"/>
<line x1="1650.6" y1="2610.6" x2="1650.6" y2="2625.4" stroke="#a08c82" stroke-width="3.8"/>
<rect x="1271.5" y="2215.1" width="333.5" height="34.8" fill="#72685a"/>
<rect x="1271.5" y="2300.2" width="107.2" height="33.7" fill="#72685a"/>
<rect x="1271.5" y="2383.6" width="86.3" height="34.8" fill="#72685a"/>
<rect x="1271.5" y="2468.7" width="86.3" height="33.7" fill="#72685a"/>
<rect x="1271.5" y="2552.2" width="280.0" height="34.8" fill="#72685a"/>
<text x="906.14" y="2229.00" font-size="33.7" fill="#000">Organelle organization/</text>
<text x="1111.88" y="2258.80" font-size="33.7" fill="#000">Transport</text>
<text x="1003.87" y="2328.70" font-size="33.7" fill="#000">Lipid metabolism</text>
<text x="1020.15" y="2394.80" font-size="33.7" fill="#000">Protein folding/</text>
<text x="1078.85" y="2425.00" font-size="33.7" fill="#000">degradation</text>
<text x="1017.86" y="2483.10" font-size="33.7" fill="#000">Signaling/stress</text>
<text x="1117.44" y="2515.20" font-size="33.7" fill="#000">response</text>
<text x="1154.68" y="2575.70" font-size="33.7" fill="#000">Others</text>
<text x="1266.00" y="2657.60" font-size="32.5" fill="#000">0</text>
<text x="1346.91" y="2657.60" font-size="32.5" fill="#000">10</text>
<text x="1442.32" y="2657.60" font-size="32.5" fill="#000">20</text>
<text x="1537.48" y="2657.60" font-size="32.5" fill="#000">30</text>
<text x="1630.25" y="2657.60" font-size="32.5" fill="#000">40%</text>
<line x1="1271" y1="2722.4" x2="1271" y2="3148.5" stroke="#a08c82" stroke-width="3.8"/>
<line x1="1256.3" y1="2724.3" x2="1271" y2="2724.3" stroke="#a08c82" stroke-width="3.8"/>
<line x1="1256.3" y1="2808.75" x2="1271" y2="2808.75" stroke="#a08c82" stroke-width="3.8"/>
<line x1="1256.3" y1="2893.2" x2="1271" y2="2893.2" stroke="#a08c82" stroke-width="3.8"/>
<line x1="1256.3" y1="2977.65" x2="1271" y2="2977.65" stroke="#a08c82" stroke-width="3.8"/>
<line x1="1256.3" y1="3062.1" x2="1271" y2="3062.1" stroke="#a08c82" stroke-width="3.8"/>
<line x1="1256.3" y1="3146.6" x2="1652.5" y2="3146.6" stroke="#a08c82" stroke-width="3.8"/>
<line x1="1270.6" y1="3146.6" x2="1270.6" y2="3161.4" stroke="#a08c82" stroke-width="3.8"/>
<line x1="1346.6" y1="3146.6" x2="1346.6" y2="3161.4" stroke="#a08c82" stroke-width="3.8"/>
<line x1="1422.6" y1="3146.6" x2="1422.6" y2="3161.4" stroke="#a08c82" stroke-width="3.8"/>
<line x1="1498.6" y1="3146.6" x2="1498.6" y2="3161.4" stroke="#a08c82" stroke-width="3.8"/>
<line x1="1574.6" y1="3146.6" x2="1574.6" y2="3161.4" stroke="#a08c82" stroke-width="3.8"/>
<line x1="1650.6" y1="3146.6" x2="1650.6" y2="3161.4" stroke="#a08c82" stroke-width="3.8"/>
<rect x="1271.5" y="2755.3" width="355.4" height="32.6" fill="#72685a"/>
<rect x="1271.5" y="2839.8" width="60.1" height="32.7" fill="#72685a"/>
<rect x="1271.5" y="2923.8" width="173.0" height="32.7" fill="#72685a"/>
<rect x="1271.5" y="3008.4" width="85.2" height="32.6" fill="#72685a"/>
<rect x="1271.5" y="3092.9" width="120.5" height="33.1" fill="#72685a"/>
<text x="1209.44" y="2782.00" font-size="33.7" fill="#000">ER</text>
<text x="1045.15" y="2867.60" font-size="33.7" fill="#000">Mitochondrion</text>
<text x="1097.56" y="2952.20" font-size="33.7" fill="#000">Cytoplasm</text>
<text x="1133.95" y="3038.80" font-size="33.7" fill="#000">Nucleus</text>
<text x="1011.45" y="3119.60" font-size="33.7" fill="#000">Others/unknown</text>
<text x="1262.36" y="3189.60" font-size="33" fill="#000">0</text>
<text x="1327.62" y="3189.60" font-size="33" fill="#000">10</text>
<text x="1404.04" y="3189.60" font-size="33" fill="#000">20</text>
<text x="1480.20" y="3189.60" font-size="33" fill="#000">30</text>
<text x="1556.53" y="3189.60" font-size="33" fill="#000">40</text>
<text x="1629.58" y="3189.60" font-size="33" fill="#000">50%</text>
</svg></body></html>
